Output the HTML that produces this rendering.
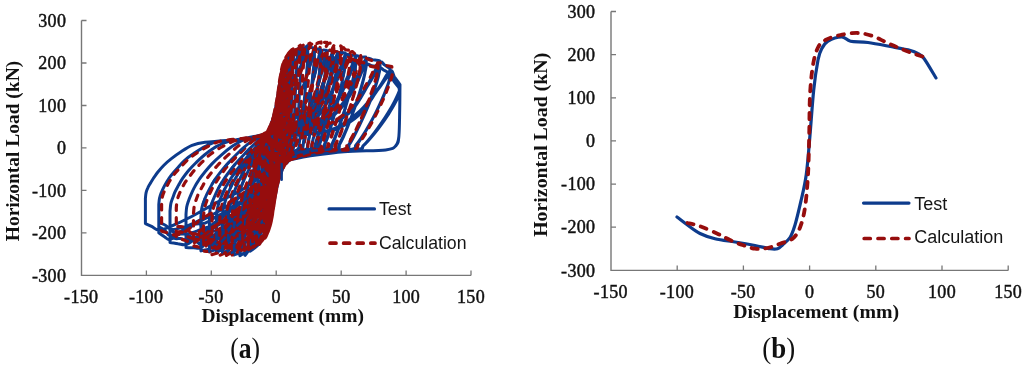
<!DOCTYPE html>
<html><head><meta charset="utf-8"><title>Hysteresis</title>
<style>
html,body{margin:0;padding:0;background:#fff;}
body{width:1024px;height:368px;overflow:hidden;position:relative;font-family:"Liberation Serif",serif;}
svg{position:absolute;left:0;top:0;display:block;filter:blur(0.35px);}
.tk{font-family:"Liberation Serif",serif;font-size:18px;fill:#111;stroke:#111;stroke-width:0.45px;letter-spacing:0.3px;}
.tt{font-family:"Liberation Serif",serif;font-size:19.2px;font-weight:bold;fill:#111;}
.lg{font-family:"Liberation Sans",sans-serif;font-size:17.4px;fill:#151515;}
.cp{font-family:"Liberation Serif",serif;font-size:30.5px;fill:#111;}
.b{fill:none;stroke:#0d3b8c;stroke-width:3;stroke-linejoin:round;stroke-linecap:round;}
.r{fill:none;stroke:#960d0d;stroke-width:3.2;stroke-linejoin:round;stroke-linecap:round;stroke-dasharray:5.6 7.4;}
</style></head>
<body>
<svg width="1024" height="368" viewBox="0 0 1024 368">
<rect width="1024" height="368" fill="#ffffff"/>
<!-- chart a -->
<path d="M81.5 20.5V275.4H471.0" fill="none" stroke="#777777" stroke-width="1.4"/><path d="M81.5 20.5h5M81.5 63.0h5M146.4 275.4v-5M81.5 105.5h5M211.3 275.4v-5M81.5 147.9h5M276.2 275.4v-5M81.5 190.4h5M341.2 275.4v-5M81.5 232.9h5M406.1 275.4v-5M471.0 275.4v-5" fill="none" stroke="#777777" stroke-width="1.3"/>
<text x="66.2" y="26.7" text-anchor="end" class="tk">300</text><text x="66.2" y="69.2" text-anchor="end" class="tk">200</text><text x="66.2" y="111.7" text-anchor="end" class="tk">100</text><text x="66.2" y="154.1" text-anchor="end" class="tk">0</text><text x="66.2" y="196.6" text-anchor="end" class="tk">-100</text><text x="66.2" y="239.1" text-anchor="end" class="tk">-200</text><text x="66.2" y="281.6" text-anchor="end" class="tk">-300</text><text x="81.2" y="302.8" text-anchor="middle" class="tk">-150</text><text x="146.1" y="302.8" text-anchor="middle" class="tk">-100</text><text x="211.0" y="302.8" text-anchor="middle" class="tk">-50</text><text x="276.2" y="302.8" text-anchor="middle" class="tk">0</text><text x="341.2" y="302.8" text-anchor="middle" class="tk">50</text><text x="406.1" y="302.8" text-anchor="middle" class="tk">100</text><text x="471.0" y="302.8" text-anchor="middle" class="tk">150</text>
<text class="tt" style="font-size:19.45px" x="282.7" y="322" text-anchor="middle">Displacement (mm)</text>
<text class="tt" style="font-size:19.45px" transform="translate(19,151) rotate(-90)" text-anchor="middle">Horizontal Load (kN)</text>
<path class="b" d="M276.2 136.0C281.6 135.6 298.2 134.9 308.1 133.7C317.9 132.4 326.6 132.5 335.3 128.7C344.0 124.9 353.1 117.5 360.3 110.9C367.5 104.2 373.6 95.5 378.5 88.8C383.4 82.2 387.1 72.6 389.9 70.8C392.6 68.9 393.2 75.5 394.9 77.8C396.6 80.1 399.1 83.5 400.0 84.7C399.9 88.9 399.9 101.4 399.7 110.0C399.5 118.5 399.5 130.2 398.9 136.1C398.3 142.0 398.3 143.1 396.1 145.4C393.9 147.7 394.4 148.8 385.7 149.9C377.0 150.9 356.9 150.7 344.1 151.8C331.3 152.8 318.2 154.8 309.1 156.1C300.0 157.5 294.9 158.9 289.4 159.8C283.9 160.8 280.8 159.5 276.2 162.1C271.7 164.6 268.0 170.4 262.2 175.1C256.3 179.8 248.4 186.0 241.0 190.5C233.6 195.0 225.7 197.7 217.5 202.1C209.3 206.4 199.5 212.4 191.7 216.5C183.8 220.6 176.0 224.2 170.5 226.5C165.0 228.8 161.8 230.2 158.8 230.3C155.7 230.3 154.3 227.8 152.1 226.7C149.8 225.6 146.5 224.1 145.4 223.6C145.4 219.4 145.4 202.5 145.4 198.3C145.5 197.3 145.7 194.4 146.1 192.7C146.5 190.9 147.0 189.4 147.8 187.8C148.5 186.2 149.5 184.7 150.5 183.1C151.4 181.4 152.5 179.7 153.7 177.8C155.0 176.0 156.2 174.1 157.9 172.0C159.6 169.9 161.7 167.4 163.9 165.2C166.1 163.0 168.3 161.1 171.1 158.9C173.8 156.8 176.8 154.5 180.3 152.3C183.8 150.0 187.8 147.1 192.0 145.4C196.1 143.8 198.2 143.2 205.1 142.3C212.0 141.4 224.7 140.6 233.6 140.0C242.5 139.3 252.3 138.8 258.5 138.4C264.6 137.9 267.6 137.6 270.6 137.2C273.5 136.8 275.3 136.2 276.2 136.0 M276.2 135.8C281.6 135.4 298.2 134.8 308.1 133.5C317.9 132.3 326.6 132.0 335.3 128.2C344.0 124.3 353.1 117.2 360.3 110.6C367.5 103.9 373.6 94.9 378.5 88.2C383.4 81.6 387.2 72.6 389.9 70.8C392.5 68.9 393.0 75.1 394.5 77.2C396.1 79.3 398.4 82.4 399.2 83.4C399.3 84.5 400.3 87.0 399.6 89.9C398.8 92.8 396.6 97.3 394.7 101.1C392.8 104.9 390.5 108.9 388.2 112.6C386.0 116.3 383.6 119.9 381.3 123.2C379.0 126.6 376.7 129.8 374.4 132.7C372.2 135.6 369.8 138.5 367.9 140.7C366.1 142.9 364.6 144.5 363.1 145.9C361.6 147.3 364.9 148.3 359.0 149.2C353.1 150.1 337.2 150.2 327.6 151.2C317.9 152.3 308.0 154.2 301.1 155.6C294.2 156.9 290.3 158.3 286.2 159.3C282.0 160.4 277.9 161.6 276.2 162.1 M276.2 132.9C281.1 132.5 296.2 131.4 305.2 130.1C314.1 128.8 322.0 128.9 329.9 125.1C337.8 121.3 346.1 114.7 352.6 107.5C359.2 100.3 364.7 89.3 369.1 81.9C373.6 74.5 376.9 65.7 379.5 62.9C382.1 60.1 382.9 64.1 384.7 65.0C386.4 66.0 389.0 68.2 389.9 68.8C389.9 70.1 390.9 73.1 390.2 76.7C389.6 80.3 387.5 85.8 385.7 90.4C384.0 95.0 381.8 99.9 379.7 104.4C377.7 108.9 375.5 113.3 373.4 117.4C371.2 121.5 369.1 125.5 367.0 129.1C364.9 132.6 362.8 136.1 361.0 138.8C359.3 141.5 357.9 143.4 356.5 145.1C355.1 146.9 358.2 148.2 352.8 149.2C347.3 150.3 332.6 150.2 323.7 151.4C314.8 152.6 305.6 155.1 299.2 156.7C292.8 158.3 289.3 159.7 285.4 160.9C281.6 162.2 279.9 161.1 276.2 164.0C272.6 166.9 268.8 173.2 263.5 178.1C258.2 183.1 251.1 188.6 244.4 193.8C237.7 198.9 230.6 204.2 223.1 208.8C215.7 213.4 206.9 217.4 199.8 221.4C192.7 225.4 185.6 229.9 180.7 232.9C175.7 235.9 172.8 239.0 170.0 239.6C167.3 240.3 166.3 237.8 164.4 236.7C162.5 235.5 159.7 233.5 158.8 232.8C158.8 228.1 158.8 209.2 158.8 204.4C158.9 203.4 159.1 200.2 159.5 198.3C159.9 196.4 160.4 194.9 161.1 193.0C161.9 191.2 162.8 189.2 163.8 187.2C164.8 185.2 165.9 183.2 167.1 181.2C168.4 179.2 169.6 177.4 171.3 175.2C173.0 173.1 175.1 170.7 177.3 168.3C179.5 165.8 181.7 162.9 184.4 160.5C187.2 158.0 190.2 155.9 193.7 153.6C197.2 151.2 201.2 148.3 205.3 146.3C209.5 144.2 212.4 142.4 218.5 141.3C224.5 140.2 234.4 140.4 241.6 139.5C248.8 138.5 256.8 136.6 261.8 135.8C266.8 134.9 269.2 134.9 271.6 134.5C274.0 134.0 275.5 133.2 276.2 132.9 M276.2 131.2C280.4 130.7 293.6 129.7 301.3 128.2C309.1 126.7 316.0 126.3 322.8 122.3C329.7 118.2 336.9 111.2 342.5 103.7C348.2 96.2 353.0 84.4 356.9 77.0C360.8 69.6 363.2 62.1 365.8 59.3C368.5 56.4 370.4 59.4 372.7 59.7C374.9 59.9 378.3 60.6 379.5 60.8C379.5 62.2 380.5 65.5 379.9 69.5C379.2 73.4 377.4 79.5 375.8 84.5C374.2 89.6 372.2 95.0 370.3 99.9C368.4 104.9 366.5 109.7 364.5 114.3C362.6 118.8 360.6 123.1 358.7 127.0C356.9 131.0 354.9 134.8 353.3 137.7C351.7 140.7 350.5 142.8 349.2 144.7C348.0 146.6 350.8 148.0 345.8 149.2C340.8 150.5 327.5 150.7 319.4 152.1C311.3 153.5 302.9 155.7 297.1 157.4C291.3 159.1 288.1 160.8 284.6 162.2C281.1 163.7 279.4 162.9 276.2 166.0C273.1 169.1 269.9 175.6 265.4 180.7C260.9 185.9 254.9 192.0 249.2 196.9C243.5 201.9 237.4 205.8 231.1 210.5C224.8 215.2 217.3 220.5 211.3 225.2C205.3 229.8 199.3 235.3 195.0 238.5C190.8 241.8 188.9 243.8 186.0 244.6C183.2 245.5 180.7 244.1 178.0 243.8C175.4 243.4 171.4 242.7 170.0 242.5C170.0 237.2 170.0 216.1 170.0 210.9C170.2 209.7 170.4 205.8 170.8 203.8C171.2 201.7 171.7 200.7 172.4 198.7C173.2 196.7 174.1 193.9 175.1 191.7C176.1 189.5 177.2 187.6 178.4 185.4C179.7 183.2 180.9 180.9 182.6 178.4C184.3 176.0 186.4 173.1 188.6 170.5C190.8 168.0 193.0 165.6 195.7 163.0C198.5 160.3 201.5 157.3 205.0 154.5C208.5 151.8 212.5 148.6 216.6 146.4C220.8 144.2 224.5 142.5 229.8 141.1C235.1 139.6 242.6 138.9 248.4 137.8C254.2 136.7 260.6 135.5 264.6 134.6C268.7 133.8 270.6 133.3 272.5 132.7C274.5 132.2 275.6 131.5 276.2 131.2 M276.2 130.3C279.9 129.9 291.6 129.5 298.4 128.0C305.3 126.4 311.4 125.3 317.4 121.2C323.5 117.1 329.8 110.9 334.9 103.5C339.9 96.1 344.1 84.6 347.5 76.9C351.0 69.2 353.3 60.6 355.4 57.3C357.6 54.0 358.9 57.4 360.6 57.3C362.4 57.3 365.0 57.0 365.8 57.0C365.9 58.5 366.8 61.9 366.2 66.1C365.7 70.2 364.1 76.5 362.7 81.8C361.3 87.1 359.6 92.7 357.9 97.9C356.3 103.0 354.6 108.1 352.9 112.8C351.2 117.5 349.5 122.0 347.9 126.1C346.3 130.2 344.5 134.2 343.2 137.3C341.8 140.3 340.7 142.6 339.6 144.5C338.5 146.5 341.0 147.9 336.7 149.2C332.3 150.5 320.8 150.8 313.7 152.2C306.7 153.7 299.4 155.9 294.4 157.9C289.3 159.8 286.5 162.2 283.5 163.7C280.5 165.3 279.0 164.1 276.2 167.3C273.5 170.4 271.0 177.6 267.2 182.9C263.4 188.1 258.4 193.6 253.7 198.5C248.9 203.5 243.9 207.7 238.6 212.7C233.3 217.6 227.1 223.8 222.0 228.4C217.0 232.9 212.0 236.8 208.5 240.0C205.0 243.3 203.4 246.5 200.9 247.8C198.4 249.1 196.0 247.7 193.5 247.7C191.0 247.7 187.3 247.6 186.0 247.6C186.0 242.1 186.0 219.8 186.0 214.3C186.1 213.1 186.3 209.3 186.7 207.1C187.1 204.9 187.7 203.3 188.4 201.2C189.1 199.1 190.1 196.7 191.1 194.4C192.1 192.1 193.1 189.8 194.4 187.4C195.6 185.0 196.9 182.8 198.6 180.3C200.2 177.8 202.3 175.2 204.5 172.5C206.7 169.8 209.0 166.9 211.7 164.1C214.4 161.2 217.5 158.3 221.0 155.3C224.4 152.3 228.5 148.9 232.6 146.1C236.7 143.4 241.5 140.5 245.7 138.8C250.0 137.0 254.1 136.7 257.9 135.7C261.8 134.8 266.0 133.7 268.6 133.1C271.3 132.4 272.5 132.2 273.8 131.8C275.1 131.3 275.8 130.6 276.2 130.3 M276.2 129.8C279.5 129.3 289.6 128.4 295.5 126.9C301.5 125.4 306.8 125.3 312.0 121.0C317.3 116.8 322.8 109.3 327.2 101.4C331.5 93.5 335.2 81.3 338.2 73.7C341.2 66.0 343.0 58.5 345.1 55.5C347.1 52.5 348.5 55.5 350.3 55.5C352.0 55.4 354.6 55.0 355.4 55.0C355.5 56.5 356.3 60.0 355.8 64.3C355.4 68.5 353.9 74.9 352.7 80.3C351.5 85.7 350.0 91.5 348.5 96.7C347.1 102.0 345.6 107.2 344.1 112.0C342.6 116.8 341.1 121.4 339.6 125.6C338.2 129.8 336.7 133.9 335.5 137.0C334.2 140.1 333.3 142.4 332.3 144.4C331.4 146.5 333.5 148.0 329.7 149.2C325.9 150.5 315.6 150.5 309.4 152.1C303.2 153.6 296.7 156.7 292.3 158.7C287.8 160.6 285.3 162.3 282.7 163.9C280.0 165.4 278.7 165.0 276.2 168.1C273.8 171.3 271.6 177.3 268.2 182.8C264.9 188.4 260.4 196.2 256.2 201.3C252.0 206.4 247.5 208.8 242.8 213.4C238.1 218.1 232.6 224.7 228.1 229.3C223.7 233.8 219.2 237.6 216.1 240.8C213.0 244.0 211.2 247.0 209.4 248.5C207.6 250.1 206.6 249.5 205.2 249.9C203.8 250.3 201.6 250.7 200.9 250.9C200.9 245.1 200.9 222.2 200.9 216.4C201.1 215.1 201.3 210.9 201.7 208.7C202.1 206.4 202.6 205.1 203.3 203.0C204.1 200.8 205.0 198.2 206.0 196.0C207.0 193.7 208.1 191.7 209.3 189.4C210.6 187.0 211.8 184.3 213.5 181.7C215.2 179.0 217.3 176.3 219.5 173.4C221.7 170.6 223.9 167.9 226.6 164.8C229.4 161.7 232.4 158.4 235.9 155.0C239.4 151.6 243.4 147.7 247.5 144.4C251.7 141.2 257.4 137.3 260.7 135.6C263.9 133.8 265.0 134.5 266.9 133.9C268.8 133.3 271.0 132.5 272.4 132.0C273.7 131.4 274.4 131.1 275.0 130.7C275.7 130.4 276.0 129.9 276.2 129.8 M276.2 129.2C279.1 128.8 288.0 128.2 293.3 126.8C298.6 125.3 303.3 124.6 308.0 120.4C312.7 116.3 317.5 109.9 321.4 101.9C325.3 94.0 328.5 80.7 331.2 72.7C333.8 64.8 335.0 57.4 337.3 54.2C339.6 50.9 343.8 53.3 345.1 53.1C345.1 54.7 345.8 58.3 345.5 62.6C345.1 66.9 343.8 73.5 342.7 79.0C341.7 84.5 340.3 90.3 339.1 95.7C337.8 101.1 336.5 106.3 335.2 111.2C333.9 116.2 332.6 120.9 331.4 125.1C330.1 129.4 328.8 133.6 327.7 136.8C326.7 140.0 325.8 142.3 325.0 144.3C324.2 146.4 326.1 147.9 322.7 149.2C319.4 150.5 310.5 150.5 305.1 152.2C299.7 153.8 294.1 157.1 290.2 159.2C286.3 161.2 284.2 162.9 281.8 164.5C279.5 166.0 278.4 165.1 276.2 168.4C274.1 171.8 272.1 179.1 269.1 184.4C266.1 189.7 262.1 195.0 258.3 200.4C254.6 205.8 250.6 211.9 246.4 216.7C242.2 221.5 237.2 225.4 233.2 229.4C229.3 233.3 225.3 237.4 222.5 240.6C219.7 243.9 218.7 247.0 216.5 248.9C214.3 250.7 210.6 251.2 209.4 251.6C209.4 245.9 209.4 222.7 209.4 217.0C209.5 215.7 209.7 211.7 210.1 209.4C210.5 207.1 211.0 205.5 211.8 203.3C212.5 201.2 213.5 198.8 214.5 196.6C215.5 194.3 216.5 192.1 217.7 189.7C219.0 187.3 220.2 184.9 221.9 182.2C223.6 179.5 225.7 176.5 227.9 173.5C230.1 170.5 232.3 167.4 235.1 164.2C237.8 161.0 240.8 157.8 244.3 154.2C247.8 150.6 251.8 146.4 256.0 142.7C260.1 139.0 266.4 134.0 269.1 132.1C271.8 130.1 271.1 131.4 272.0 131.1C272.9 130.9 273.8 130.8 274.5 130.5C275.1 130.2 275.4 129.7 275.7 129.5C276.0 129.2 276.2 129.3 276.2 129.2 M276.2 128.9C278.9 128.5 287.0 128.0 291.9 126.4C296.7 124.9 301.0 124.3 305.3 119.8C309.6 115.2 314.0 106.9 317.6 98.9C321.1 91.0 324.1 79.6 326.5 72.0C328.9 64.4 330.3 56.7 332.1 53.3C333.9 50.0 336.4 52.0 337.3 51.8C337.3 53.4 338.0 57.0 337.7 61.4C337.3 65.7 336.2 72.4 335.2 78.0C334.3 83.6 333.1 89.5 332.0 94.9C330.9 100.4 329.7 105.7 328.6 110.7C327.5 115.7 326.3 120.5 325.2 124.8C324.1 129.1 322.9 133.3 322.0 136.6C321.0 139.8 320.3 142.2 319.5 144.3C318.8 146.4 320.5 147.9 317.5 149.2C314.6 150.5 306.7 150.5 301.8 152.1C297.0 153.8 292.1 157.1 288.6 159.2C285.2 161.2 283.3 162.9 281.2 164.5C279.1 166.1 278.2 165.2 276.2 168.6C274.3 172.1 272.5 180.2 269.8 185.3C267.1 190.4 263.5 194.1 260.1 199.1C256.7 204.1 253.1 210.3 249.3 215.4C245.5 220.5 241.0 225.2 237.5 229.9C233.9 234.6 230.3 240.2 227.8 243.5C225.2 246.7 224.2 247.7 222.4 249.2C220.5 250.6 217.5 251.5 216.5 252.0C216.5 246.2 216.5 223.0 216.5 217.2C216.6 216.0 216.8 212.1 217.2 209.8C217.6 207.5 218.1 205.5 218.8 203.3C219.5 201.0 220.5 198.4 221.5 196.1C222.4 193.7 223.4 191.6 224.6 189.3C225.8 186.9 227.1 184.6 228.7 182.0C230.3 179.3 232.4 176.2 234.5 173.2C236.6 170.2 238.8 167.3 241.4 164.0C244.1 160.7 247.0 157.1 250.4 153.3C253.8 149.4 257.7 144.5 261.7 140.7C265.7 136.8 272.0 131.9 274.5 129.9C276.9 127.9 276.0 129.0 276.2 128.9 M276.2 128.6C278.6 128.2 285.9 127.6 290.2 126.2C294.6 124.7 298.4 124.4 302.2 120.1C306.1 115.8 310.1 108.1 313.2 100.3C316.4 92.4 319.1 80.9 321.2 73.0C323.4 65.1 324.4 56.3 326.2 52.6C328.0 48.9 331.1 51.2 332.1 50.9C332.1 52.5 332.8 56.2 332.5 60.6C332.2 65.0 331.1 71.7 330.3 77.4C329.4 83.0 328.3 89.0 327.3 94.5C326.3 100.0 325.2 105.4 324.2 110.4C323.1 115.4 322.1 120.2 321.0 124.6C320.0 128.9 319.0 133.2 318.1 136.5C317.2 139.7 316.6 142.1 315.9 144.2C315.2 146.4 316.7 147.9 314.0 149.2C311.3 150.5 304.1 150.6 299.7 152.2C295.3 153.7 290.7 156.5 287.6 158.5C284.4 160.6 282.7 162.8 280.8 164.5C278.9 166.2 278.0 165.8 276.2 168.8C274.5 171.8 272.9 177.7 270.5 182.7C268.1 187.7 264.9 193.5 261.8 198.8C258.8 204.1 255.6 209.0 252.2 214.6C248.9 220.2 244.9 227.4 241.7 232.4C238.5 237.5 235.3 242.0 233.0 245.0C230.8 248.0 230.0 249.2 228.2 250.4C226.4 251.6 223.3 252.0 222.4 252.3C222.4 246.5 222.4 223.2 222.4 217.4C222.5 216.2 222.6 212.2 223.0 209.9C223.3 207.7 223.8 206.1 224.5 203.9C225.1 201.7 225.9 199.2 226.8 196.8C227.7 194.4 228.6 192.0 229.7 189.6C230.8 187.1 231.9 184.7 233.3 182.0C234.8 179.3 236.7 176.2 238.6 173.2C240.5 170.2 242.4 167.5 244.8 164.1C247.2 160.6 249.9 156.7 252.9 152.7C256.0 148.7 259.5 144.0 263.1 140.2C266.8 136.4 272.4 131.8 274.6 129.8C276.8 127.9 276.0 128.8 276.2 128.6 M276.2 127.4C278.3 126.4 284.8 124.0 288.6 121.8C292.4 119.6 295.8 118.6 299.2 114.1C302.6 109.7 306.1 102.3 308.9 94.8C311.7 87.4 314.1 76.7 316.0 69.5C317.9 62.4 318.7 55.1 320.4 51.9C322.1 48.7 325.3 50.5 326.2 50.2C326.3 51.8 326.9 55.5 326.6 60.0C326.4 64.4 325.4 71.1 324.6 76.8C323.9 82.5 322.9 88.5 322.0 94.1C321.1 99.6 320.1 105.0 319.2 110.1C318.3 115.1 317.3 120.0 316.4 124.4C315.5 128.8 314.5 133.1 313.8 136.4C313.0 139.7 312.4 142.1 311.8 144.2C311.2 146.3 312.6 147.8 310.1 149.2C307.7 150.7 301.2 150.9 297.3 152.8C293.3 154.7 289.2 158.4 286.4 160.6C283.6 162.8 282.0 164.4 280.3 166.1C278.6 167.9 277.8 167.6 276.2 171.3C274.7 175.0 273.3 182.9 271.2 188.1C269.1 193.3 266.3 197.7 263.6 202.5C260.9 207.3 258.1 211.8 255.2 217.1C252.2 222.4 248.7 229.6 245.9 234.4C243.1 239.2 240.2 243.0 238.3 245.9C236.3 248.8 235.7 250.4 234.1 251.7C232.4 252.9 229.2 253.2 228.2 253.5C228.2 247.7 228.2 224.1 228.2 218.2C228.3 216.9 228.5 212.5 228.8 210.1C229.1 207.8 229.5 206.3 230.1 204.2C230.6 202.0 231.4 199.7 232.2 197.4C232.9 195.1 233.8 192.9 234.7 190.5C235.7 188.1 236.7 185.8 238.0 183.0C239.3 180.2 240.9 176.7 242.7 173.5C244.4 170.3 246.1 167.2 248.2 163.8C250.4 160.3 252.8 156.8 255.5 152.7C258.2 148.7 261.3 143.5 264.6 139.4C267.8 135.2 272.9 130.0 274.8 128.0C276.8 126.0 276.0 127.5 276.2 127.4 M276.2 124.1C278.0 122.0 283.5 115.5 286.8 111.6C290.1 107.8 292.9 105.9 295.8 101.2C298.7 96.6 301.7 89.8 304.1 83.7C306.5 77.7 308.5 70.7 310.1 65.2C311.8 59.6 312.2 53.1 313.9 50.5C315.6 47.9 319.3 49.6 320.4 49.5C320.5 51.1 321.0 54.8 320.8 59.3C320.6 63.8 319.7 70.6 319.0 76.3C318.4 82.0 317.5 88.1 316.7 93.7C315.9 99.2 315.1 104.7 314.2 109.8C313.4 114.9 312.6 119.8 311.8 124.2C310.9 128.6 310.1 133.0 309.4 136.3C308.7 139.6 308.2 142.0 307.7 144.2C307.1 146.3 308.4 147.6 306.2 149.2C304.1 150.8 298.3 151.8 294.8 153.8C291.3 155.9 287.7 159.1 285.2 161.6C282.7 164.2 281.3 166.9 279.8 169.1C278.3 171.4 277.6 170.9 276.2 174.9C274.9 178.9 273.7 187.7 271.9 193.2C270.1 198.6 267.6 202.4 265.3 207.4C263.0 212.5 260.6 218.9 258.1 223.5C255.5 228.2 252.5 231.8 250.1 235.5C247.7 239.2 245.2 243.0 243.5 245.8C241.8 248.6 241.5 250.9 239.9 252.4C238.3 253.9 235.0 254.4 234.1 254.9C234.1 248.9 234.1 225.1 234.1 219.1C234.1 217.8 234.3 213.8 234.5 211.5C234.8 209.2 235.2 207.5 235.7 205.2C236.2 203.0 236.9 200.3 237.5 198.0C238.2 195.6 238.9 193.4 239.8 190.9C240.6 188.5 241.5 185.9 242.6 183.1C243.8 180.3 245.2 177.4 246.7 174.2C248.2 171.0 249.8 167.5 251.7 163.8C253.5 160.0 255.6 156.1 258.0 151.7C260.4 147.3 263.1 141.8 266.0 137.4C268.8 133.0 273.3 127.6 275.0 125.4C276.7 123.2 276.0 124.3 276.2 124.1 M276.2 119.6C277.7 116.4 282.3 105.9 285.0 100.2C287.7 94.6 290.1 90.7 292.5 85.6C294.8 80.5 297.3 74.4 299.3 69.6C301.3 64.9 302.9 61.0 304.3 57.4C305.6 53.8 305.8 49.8 307.4 48.2C309.0 46.7 312.8 48.0 313.9 48.0C314.0 49.7 314.5 53.4 314.3 58.0C314.1 62.5 313.4 69.4 312.8 75.2C312.2 81.0 311.5 87.1 310.9 92.8C310.2 98.5 309.5 104.0 308.8 109.2C308.1 114.3 307.3 119.3 306.7 123.8C306.0 128.3 305.3 132.6 304.7 136.0C304.1 139.4 303.7 141.8 303.2 144.0C302.8 146.2 303.8 147.5 302.0 149.1C300.2 150.7 295.2 151.1 292.2 153.6C289.2 156.2 286.1 161.3 284.0 164.6C281.8 167.8 280.6 170.6 279.3 173.2C278.1 175.7 277.4 175.5 276.2 180.0C275.1 184.5 274.1 194.1 272.5 200.3C271.0 206.4 268.9 212.4 266.9 217.0C264.9 221.6 262.9 224.0 260.7 228.0C258.5 231.9 255.9 236.9 253.8 240.6C251.7 244.2 249.7 247.8 248.2 249.7C246.8 251.6 246.5 251.2 245.1 252.2C243.7 253.2 240.8 255.1 239.9 255.6C239.9 251.1 239.9 233.1 239.9 228.6C240.0 227.1 240.1 222.1 240.3 219.6C240.6 217.0 240.9 215.6 241.3 213.1C241.7 210.6 242.3 207.5 242.9 204.8C243.5 202.0 244.1 199.4 244.8 196.7C245.6 193.9 246.3 191.5 247.3 188.4C248.3 185.3 249.5 181.6 250.8 177.9C252.1 174.1 253.4 170.2 255.1 165.8C256.7 161.4 258.5 156.7 260.5 151.6C262.6 146.5 265.0 140.5 267.4 135.4C269.8 130.4 273.7 123.9 275.2 121.3C276.6 118.6 276.1 119.9 276.2 119.6 M276.2 111.9C277.5 108.0 281.3 94.9 283.5 88.4C285.8 81.9 287.8 77.3 289.8 72.8C291.7 68.3 293.8 64.6 295.5 61.3C297.1 58.0 298.5 55.1 299.6 53.1C300.7 51.2 300.9 51.1 302.2 49.8C303.5 48.6 306.5 46.4 307.4 45.7C307.5 47.4 307.9 51.3 307.8 55.9C307.7 60.5 307.1 67.6 306.6 73.5C306.2 79.4 305.6 85.7 305.1 91.5C304.6 97.2 304.0 102.9 303.5 108.2C302.9 113.4 302.4 118.5 301.8 123.1C301.3 127.7 300.8 132.1 300.3 135.6C299.9 139.0 299.5 141.5 299.2 143.7C298.8 146.0 299.8 147.1 298.2 149.0C296.7 150.8 292.4 151.8 289.9 154.9C287.3 157.9 284.7 163.6 282.8 167.3C281.0 171.1 280.0 174.4 278.9 177.5C277.8 180.5 277.2 181.2 276.2 185.8C275.3 190.5 274.4 199.6 273.1 205.2C271.8 210.9 270.1 215.7 268.5 219.6C266.8 223.6 265.1 225.9 263.3 229.0C261.4 232.2 259.3 235.8 257.6 238.4C255.8 241.1 254.1 243.2 252.9 244.8C251.7 246.4 251.6 246.3 250.3 248.1C249.0 249.9 246.0 254.2 245.1 255.4C245.1 250.9 245.1 232.9 245.1 228.4C245.2 226.9 245.3 222.1 245.5 219.6C245.7 217.0 245.9 215.3 246.3 212.9C246.7 210.4 247.2 207.4 247.7 204.8C248.2 202.2 248.7 199.8 249.3 197.0C250.0 194.3 250.6 191.5 251.4 188.2C252.3 184.8 253.4 181.0 254.5 176.9C255.6 172.9 256.7 168.8 258.1 164.0C259.5 159.3 261.0 154.0 262.8 148.6C264.5 143.1 266.6 137.0 268.7 131.1C270.8 125.3 274.1 116.8 275.3 113.6C276.6 110.4 276.1 112.2 276.2 111.9 M276.2 107.7C277.5 102.2 281.4 83.0 284.0 74.5C286.6 65.9 288.8 60.9 291.8 56.4C294.9 51.8 300.5 48.8 302.2 47.3C301.8 54.4 300.5 75.2 299.6 89.6C298.7 104.0 298.6 122.2 296.9 133.9C295.2 145.5 291.4 154.2 289.2 159.5C287.1 164.8 285.7 162.4 284.0 165.7C282.4 169.0 280.4 175.4 279.1 179.3C277.8 183.3 278.0 181.9 276.2 189.3C274.5 196.6 271.1 214.6 268.5 223.3C265.9 232.1 263.7 237.3 260.7 241.9C257.6 246.6 252.0 249.7 250.3 251.2C250.7 244.0 252.0 222.6 252.9 207.8C253.8 193.0 253.9 174.3 255.6 162.4C257.3 150.5 261.1 142.0 263.3 136.7C265.4 131.4 266.8 133.9 268.5 130.6C270.1 127.4 272.1 121.2 273.4 117.4C274.7 113.5 275.8 109.3 276.2 107.7 M276.2 104.8C277.3 99.7 280.5 81.9 282.7 74.0C284.8 66.0 286.6 61.4 289.1 57.2C291.6 53.0 296.2 50.2 297.7 48.8C297.3 55.7 296.3 76.2 295.5 90.4C294.8 104.6 294.7 122.5 293.3 134.1C291.9 145.7 288.7 154.6 287.0 160.0C285.2 165.4 284.1 163.0 282.7 166.4C281.3 169.8 279.7 176.5 278.6 180.6C277.5 184.6 277.7 184.0 276.2 190.9C274.8 197.7 272.0 213.6 269.8 221.5C267.7 229.4 265.9 234.1 263.4 238.2C260.9 242.4 256.3 245.2 254.8 246.6C255.2 239.7 256.2 219.3 257.0 205.2C257.7 191.0 257.8 173.3 259.2 161.8C260.6 150.2 263.8 141.3 265.5 135.9C267.3 130.5 268.4 132.8 269.8 129.4C271.2 125.9 272.8 119.3 273.9 115.2C275.0 111.1 275.9 106.5 276.2 104.8 M276.2 105.0C277.1 100.0 279.8 82.7 281.5 75.0C283.3 67.3 284.7 62.7 286.8 58.6C288.8 54.5 292.6 51.8 293.8 50.4C293.5 57.3 292.6 77.4 292.0 91.4C291.4 105.4 291.4 123.0 290.2 134.3C289.0 145.6 286.5 154.1 285.0 159.3C283.6 164.4 282.6 162.1 281.5 165.3C280.4 168.5 279.1 174.8 278.2 178.6C277.3 182.5 277.4 182.0 276.2 188.3C275.1 194.6 272.7 209.3 271.0 216.6C269.2 223.8 267.8 228.1 265.7 232.0C263.7 235.8 259.9 238.4 258.7 239.7C259.0 233.3 259.9 214.3 260.5 201.2C261.1 188.0 261.1 171.7 262.3 160.8C263.5 149.9 266.0 141.2 267.5 135.9C268.9 130.7 269.9 132.9 271.0 129.5C272.1 126.1 273.4 119.4 274.3 115.3C275.2 111.3 275.9 106.8 276.2 105.0 M276.2 106.8C277.0 101.9 279.1 85.3 280.5 77.9C282.0 70.5 283.2 66.1 284.8 62.2C286.5 58.3 289.6 55.6 290.5 54.3C290.3 60.9 289.6 80.2 289.1 93.6C288.6 107.1 288.6 124.1 287.6 134.8C286.7 145.6 284.6 153.3 283.4 158.1C282.2 162.9 281.5 160.7 280.5 163.6C279.6 166.5 278.5 172.2 277.8 175.6C277.1 179.1 277.2 178.6 276.2 184.3C275.3 190.0 273.4 203.3 272.0 209.8C270.5 216.4 269.3 220.2 267.7 223.7C266.0 227.2 262.9 229.5 262.0 230.7C262.2 224.9 262.9 207.8 263.4 195.9C263.9 184.1 263.9 169.4 264.9 159.5C265.8 149.6 267.9 141.3 269.1 136.4C270.3 131.5 271.0 133.5 272.0 130.2C272.9 126.9 274.0 120.6 274.7 116.6C275.4 112.7 276.0 108.4 276.2 106.8 M276.2 111.9C276.8 107.0 278.6 89.9 279.8 82.2C280.9 74.5 281.9 70.0 283.3 66.0C284.6 61.9 287.2 59.2 287.9 57.9C287.7 64.2 287.2 82.8 286.8 95.7C286.4 108.6 286.3 125.3 285.5 135.3C284.8 145.4 283.1 151.9 282.1 156.0C281.1 160.2 280.5 158.1 279.8 160.4C279.0 162.7 278.1 167.2 277.5 169.9C277.0 172.7 277.0 171.7 276.2 176.8C275.5 182.0 273.9 194.5 272.7 200.7C271.6 206.8 270.6 210.4 269.2 213.7C267.9 216.9 265.3 219.1 264.6 220.2C264.8 215.1 265.3 200.2 265.7 189.8C266.1 179.5 266.2 166.7 267.0 158.1C267.7 149.4 269.4 142.1 270.4 137.9C271.4 133.6 272.0 135.3 272.7 132.5C273.5 129.6 274.4 124.0 275.0 120.6C275.5 117.1 276.0 113.4 276.2 111.9 M276.2 119.3C276.7 114.2 278.2 96.6 279.2 88.7C280.1 80.8 281.0 76.1 282.1 72.0C283.2 67.8 285.3 65.0 286.0 63.6C285.8 69.5 285.3 87.0 285.0 99.0C284.7 111.1 284.6 127.0 284.0 136.1C283.3 145.3 281.9 150.5 281.1 154.1C280.3 157.6 279.8 155.6 279.2 157.4C278.5 159.1 277.8 162.5 277.3 164.6C276.8 166.7 276.9 165.1 276.2 169.8C275.6 174.6 274.3 187.2 273.3 193.2C272.4 199.2 271.5 202.8 270.4 205.9C269.3 209.1 267.2 211.3 266.5 212.3C266.7 207.8 267.2 194.5 267.5 185.3C267.8 176.1 267.9 164.5 268.5 157.0C269.2 149.4 270.6 143.5 271.4 139.9C272.2 136.4 272.7 137.9 273.3 135.6C274.0 133.3 274.7 128.9 275.2 126.2C275.7 123.4 276.1 120.4 276.2 119.3 M276.2 126.4C276.6 121.3 277.8 103.8 278.6 95.9C279.4 88.1 280.0 83.5 280.9 79.3C281.8 75.1 283.5 72.4 284.0 71.0C283.9 76.4 283.5 92.3 283.3 103.3C283.0 114.3 283.0 129.0 282.4 137.2C281.9 145.3 280.8 149.4 280.1 152.4C279.5 155.3 279.1 153.5 278.6 154.7C278.1 156.0 277.5 158.4 277.1 159.9C276.7 161.4 276.8 159.3 276.2 163.7C275.7 168.0 274.7 180.2 273.9 185.9C273.1 191.6 272.5 195.0 271.6 198.0C270.7 201.1 269.0 203.1 268.5 204.1C268.6 200.2 269.0 188.6 269.2 180.5C269.5 172.5 269.5 162.2 270.1 155.8C270.6 149.4 271.7 144.8 272.4 141.9C273.0 139.1 273.4 140.4 273.9 138.7C274.4 137.0 275.0 133.6 275.4 131.6C275.8 129.5 276.1 127.3 276.2 126.4 M276.2 133.1C276.6 128.2 277.5 111.5 278.2 104.0C278.8 96.5 279.4 92.1 280.1 88.2C280.9 84.2 282.3 81.6 282.7 80.2C282.6 85.0 282.3 99.0 282.1 108.7C281.9 118.4 281.8 131.4 281.4 138.5C281.0 145.5 280.0 148.6 279.5 151.0C279.0 153.4 278.6 151.8 278.2 152.6C277.8 153.5 277.3 155.2 277.0 156.3C276.6 157.3 276.7 154.9 276.2 158.9C275.8 162.9 275.0 174.7 274.3 180.2C273.7 185.7 273.1 188.9 272.4 191.8C271.6 194.7 270.2 196.6 269.8 197.6C269.9 194.1 270.2 183.9 270.4 176.8C270.6 169.6 270.7 160.4 271.1 154.9C271.5 149.4 272.5 146.0 273.0 143.8C273.5 141.6 273.9 142.7 274.3 141.5C274.7 140.4 275.2 138.0 275.5 136.6C275.9 135.2 276.1 133.6 276.2 133.1 M276.2 138.6C276.5 134.1 277.3 118.5 277.8 111.6C278.3 104.6 278.8 100.5 279.4 96.9C280.0 93.2 281.1 90.7 281.4 89.5C281.4 93.6 281.1 105.7 280.9 114.0C280.7 122.4 280.7 133.8 280.4 139.8C280.0 145.7 279.3 148.0 278.8 149.9C278.4 151.7 278.1 150.4 277.8 150.9C277.5 151.5 277.1 152.5 276.8 153.2C276.6 153.9 276.6 151.3 276.2 154.9C275.9 158.5 275.2 169.7 274.7 174.8C274.2 180.0 273.7 183.0 273.1 185.7C272.5 188.4 271.4 190.2 271.1 191.1C271.1 188.1 271.4 179.2 271.6 173.0C271.8 166.8 271.8 158.6 272.1 154.0C272.5 149.4 273.2 147.0 273.7 145.3C274.1 143.7 274.4 144.7 274.7 143.9C275.0 143.2 275.4 141.7 275.7 140.8C275.9 140.0 276.2 139.0 276.2 138.6 M276.2 143.1C276.4 139.1 277.0 125.3 277.4 119.1C277.8 112.9 278.1 109.3 278.6 106.0C279.0 102.7 279.9 100.5 280.1 99.4C280.1 102.8 279.9 112.9 279.8 119.8C279.6 126.8 279.6 136.3 279.3 141.2C279.1 146.0 278.5 147.6 278.2 149.0C277.9 150.4 277.7 149.2 277.4 149.5C277.2 149.8 276.9 150.4 276.7 150.7C276.5 151.1 276.5 148.4 276.2 151.6C276.0 154.8 275.5 165.1 275.1 169.8C274.7 174.5 274.4 177.2 273.9 179.7C273.5 182.2 272.6 183.8 272.4 184.7C272.4 182.1 272.6 174.5 272.7 169.2C272.9 164.0 272.9 156.9 273.2 153.1C273.4 149.3 274.0 147.8 274.3 146.6C274.6 145.4 274.8 146.3 275.1 145.9C275.3 145.5 275.6 144.7 275.8 144.3C276.0 143.8 276.2 143.3 276.2 143.1 M276.2 145.8C276.4 143.0 276.8 133.5 277.0 129.2C277.3 124.9 277.5 122.4 277.8 120.1C278.1 117.9 278.7 116.4 278.8 115.6C278.8 117.9 278.7 124.6 278.6 129.2C278.5 133.8 278.5 140.2 278.3 143.4C278.1 146.6 277.8 147.6 277.5 148.4C277.3 149.3 277.2 148.6 277.0 148.7C276.9 148.9 276.7 149.1 276.5 149.3C276.4 149.5 276.4 147.4 276.2 149.7C276.1 152.1 275.7 159.9 275.5 163.5C275.2 167.0 275.0 169.1 274.7 171.0C274.4 172.9 273.8 174.1 273.7 174.7C273.7 172.9 273.8 167.3 273.9 163.5C274.0 159.6 274.0 154.4 274.2 151.7C274.4 149.0 274.7 148.1 275.0 147.3C275.2 146.6 275.3 147.2 275.5 147.0C275.6 146.9 275.8 146.5 276.0 146.3C276.1 146.1 276.2 145.9 276.2 145.8 M276.2 147.4C276.3 146.0 276.5 141.0 276.6 138.8C276.8 136.6 276.9 135.3 277.0 134.1C277.2 133.0 277.5 132.2 277.5 131.8C277.5 132.9 277.5 136.3 277.4 138.6C277.4 140.9 277.4 144.1 277.3 145.7C277.2 147.3 277.0 147.7 276.9 148.1C276.8 148.5 276.7 148.1 276.6 148.1C276.6 148.2 276.5 148.2 276.4 148.3C276.3 148.3 276.3 147.2 276.2 148.4C276.2 149.6 276.0 153.7 275.9 155.5C275.7 157.3 275.6 158.4 275.5 159.4C275.3 160.4 275.0 161.0 275.0 161.3C275.0 160.4 275.0 157.6 275.1 155.7C275.1 153.8 275.1 151.1 275.2 149.8C275.3 148.5 275.5 148.2 275.6 147.8C275.7 147.4 275.8 147.8 275.9 147.7C275.9 147.7 276.0 147.6 276.1 147.5C276.2 147.5 276.2 147.4 276.2 147.4 M276.2 136.6C281.5 136.2 298.1 135.4 307.9 134.2C317.7 133.1 326.3 132.9 335.0 129.6C343.6 126.3 352.7 120.9 359.8 114.3C367.0 107.6 373.0 96.2 377.9 89.7C382.8 83.2 386.5 76.6 389.2 75.3C391.9 73.9 392.5 79.5 394.1 81.5C395.7 83.6 398.1 86.6 398.9 87.6C399.0 88.6 400.1 90.9 399.3 93.6C398.6 96.4 396.4 100.6 394.5 104.1C392.6 107.7 390.2 111.4 388.0 114.9C385.8 118.3 383.4 121.7 381.1 124.8C378.8 128.0 376.5 131.0 374.2 133.8C372.0 136.5 369.6 139.2 367.8 141.2C365.9 143.3 364.4 144.8 362.9 146.1C361.4 147.4 364.7 148.3 358.8 149.2C352.9 150.1 337.1 150.5 327.5 151.5C317.8 152.5 307.9 153.8 301.0 155.1C294.1 156.3 290.3 158.0 286.2 159.0C282.0 160.0 277.9 160.7 276.2 161.1 M276.2 133.7C281.0 133.2 296.1 132.5 305.0 131.0C313.9 129.6 321.7 128.6 329.6 125.1C337.4 121.6 345.7 117.0 352.2 110.2C358.6 103.4 364.1 91.4 368.6 84.5C373.0 77.5 376.3 71.0 378.8 68.6C381.4 66.3 382.2 69.5 383.8 70.2C385.5 70.9 388.0 72.4 388.8 72.8C388.9 74.1 389.9 76.9 389.2 80.3C388.5 83.8 386.5 89.0 384.7 93.4C383.0 97.7 380.8 102.4 378.8 106.7C376.8 110.9 374.6 115.1 372.5 119.0C370.4 122.9 368.2 126.7 366.2 130.1C364.1 133.4 362.0 136.8 360.2 139.3C358.5 141.9 357.1 143.7 355.8 145.3C354.4 147.0 357.5 148.2 352.1 149.2C346.6 150.2 332.1 150.3 323.3 151.4C314.4 152.4 305.3 154.2 299.0 155.5C292.7 156.9 289.1 158.4 285.3 159.6C281.6 160.8 277.8 162.3 276.2 162.9 M276.2 132.3C280.4 132.0 293.4 131.6 301.2 130.1C308.9 128.6 315.7 127.5 322.5 123.6C329.3 119.7 336.4 113.5 342.1 106.9C347.7 100.4 352.4 91.3 356.3 84.4C360.1 77.4 362.6 68.5 365.2 65.3C367.8 62.2 369.6 65.5 371.8 65.7C374.0 65.9 377.3 66.3 378.4 66.4C378.5 67.8 379.4 70.9 378.8 74.6C378.2 78.3 376.3 83.9 374.8 88.7C373.2 93.4 371.2 98.5 369.4 103.1C367.5 107.7 365.6 112.3 363.6 116.5C361.7 120.7 359.8 124.8 357.9 128.5C356.1 132.1 354.1 135.7 352.5 138.5C350.9 141.2 349.7 143.2 348.5 145.0C347.2 146.8 350.0 148.0 345.1 149.2C340.2 150.5 327.0 151.1 318.9 152.4C310.9 153.7 302.6 155.5 296.9 157.0C291.2 158.5 288.0 160.1 284.5 161.4C281.1 162.7 277.6 164.2 276.2 164.7 M276.2 131.5C279.9 131.1 291.4 130.4 298.2 129.1C305.1 127.9 311.1 127.8 317.1 124.0C323.1 120.1 329.4 113.2 334.4 106.2C339.4 99.2 343.5 88.9 346.9 81.8C350.3 74.7 352.7 66.6 354.8 63.5C356.9 60.5 358.1 63.6 359.8 63.5C361.5 63.4 364.0 63.2 364.8 63.2C364.9 64.6 365.7 67.8 365.2 71.6C364.7 75.5 363.0 81.4 361.7 86.3C360.3 91.2 358.6 96.5 357.0 101.3C355.4 106.1 353.7 110.8 352.0 115.2C350.4 119.6 348.7 123.8 347.1 127.6C345.5 131.5 343.8 135.2 342.4 138.1C341.0 140.9 340.0 143.0 338.9 144.9C337.8 146.7 340.2 148.1 336.0 149.2C331.7 150.3 320.2 149.9 313.3 151.4C306.3 152.9 299.1 156.5 294.2 158.2C289.2 160.0 286.4 160.6 283.4 161.9C280.4 163.2 277.4 165.2 276.2 165.9 M276.2 131.0C279.4 130.4 289.4 128.9 295.3 127.7C301.2 126.4 306.5 127.4 311.7 123.3C316.9 119.3 322.4 110.6 326.7 103.3C331.0 95.9 334.6 86.0 337.6 79.1C340.5 72.2 342.4 64.8 344.4 61.9C346.4 59.0 347.7 61.9 349.4 61.8C351.1 61.7 353.6 61.4 354.4 61.3C354.5 62.7 355.3 66.0 354.8 70.0C354.3 73.9 352.9 79.9 351.7 84.9C350.5 90.0 349.0 95.3 347.6 100.3C346.2 105.2 344.7 110.0 343.2 114.5C341.7 119.0 340.2 123.3 338.8 127.2C337.4 131.1 335.9 134.9 334.7 137.8C333.5 140.7 332.5 142.9 331.6 144.8C330.6 146.7 332.8 148.1 329.0 149.2C325.2 150.3 315.1 150.0 309.0 151.5C302.8 153.0 296.5 156.3 292.1 158.3C287.7 160.2 285.2 161.6 282.6 163.0C279.9 164.5 277.3 166.1 276.2 166.7 M276.2 130.5C279.1 130.1 287.9 129.4 293.2 127.9C298.4 126.4 303.0 125.3 307.6 121.3C312.3 117.2 317.1 110.7 320.9 103.6C324.7 96.6 328.0 86.4 330.6 79.3C333.2 72.1 334.4 63.9 336.6 60.6C338.9 57.3 342.8 59.8 344.0 59.6C344.1 61.1 344.8 64.4 344.4 68.4C344.0 72.4 342.8 78.6 341.7 83.7C340.7 88.8 339.4 94.3 338.2 99.3C336.9 104.3 335.6 109.2 334.3 113.8C333.1 118.4 331.8 122.8 330.5 126.8C329.3 130.7 328.0 134.6 327.0 137.6C325.9 140.6 325.1 142.7 324.3 144.7C323.5 146.6 325.3 148.0 322.0 149.2C318.8 150.5 310.0 150.6 304.6 152.2C299.3 153.7 293.8 156.5 290.0 158.4C286.2 160.3 284.0 162.3 281.7 163.7C279.5 165.1 277.2 166.5 276.2 167.0 M276.2 130.1C278.8 129.8 286.9 129.5 291.7 128.0C296.5 126.5 300.7 125.1 304.9 121.1C309.2 117.2 313.6 111.6 317.1 104.2C320.6 96.8 323.5 84.1 325.9 76.7C328.3 69.3 329.7 62.9 331.4 59.9C333.1 56.8 335.4 58.6 336.2 58.3C336.3 59.8 337.0 63.2 336.6 67.3C336.3 71.4 335.2 77.5 334.2 82.8C333.3 88.0 332.2 93.5 331.1 98.6C330.0 103.7 328.8 108.7 327.7 113.3C326.6 117.9 325.4 122.4 324.3 126.4C323.3 130.5 322.1 134.4 321.2 137.4C320.3 140.5 319.5 142.6 318.8 144.6C318.1 146.6 319.7 147.9 316.8 149.2C313.9 150.5 306.1 150.9 301.4 152.4C296.7 154.0 291.8 156.7 288.4 158.5C285.0 160.3 283.1 161.8 281.1 163.2C279.1 164.7 277.1 166.5 276.2 167.2 M276.2 129.9C278.6 129.5 285.8 129.0 290.1 127.6C294.3 126.2 298.1 126.0 301.9 121.7C305.7 117.3 309.6 109.1 312.8 101.5C315.9 93.9 318.5 83.3 320.7 76.3C322.8 69.3 323.9 62.4 325.6 59.2C327.3 56.1 330.1 57.9 331.0 57.6C331.1 59.1 331.7 62.5 331.4 66.6C331.1 70.7 330.1 77.0 329.3 82.2C328.4 87.5 327.4 93.1 326.4 98.2C325.4 103.3 324.3 108.3 323.3 113.0C322.3 117.7 321.2 122.2 320.2 126.2C319.2 130.3 318.2 134.3 317.3 137.3C316.5 140.4 315.8 142.6 315.2 144.6C314.5 146.6 316.0 148.0 313.3 149.2C310.7 150.4 303.6 150.2 299.3 151.7C294.9 153.2 290.5 156.2 287.4 158.1C284.3 159.9 282.6 161.2 280.7 162.8C278.8 164.3 277.0 166.6 276.2 167.3 M276.2 162.9C274.2 166.7 267.7 180.5 263.7 185.8C259.6 191.1 255.9 191.8 252.2 194.5C248.5 197.1 245.5 199.1 241.6 201.7C237.7 204.3 232.9 207.5 228.9 210.0C224.8 212.4 221.3 214.0 217.3 216.2C213.3 218.4 209.1 221.8 205.1 223.1C201.1 224.5 197.2 223.1 193.2 224.5C189.2 225.8 185.0 229.4 181.1 231.3C177.3 233.1 172.8 235.8 170.0 235.6C167.3 235.3 166.3 231.3 164.4 229.9C162.5 228.4 159.7 227.4 158.8 226.9 M276.2 162.2C274.2 166.6 267.9 182.9 263.9 188.8C259.9 194.7 256.1 195.3 252.3 197.4C248.6 199.6 244.8 199.9 241.2 201.6C237.5 203.3 234.5 205.2 230.4 207.8C226.4 210.3 220.8 215.5 216.9 217.1C212.9 218.6 210.5 216.2 206.8 217.1C203.1 218.1 198.8 221.1 194.6 222.8C190.4 224.6 185.7 226.5 181.8 227.6C178.0 228.7 174.0 229.8 171.3 229.5C168.7 229.1 167.7 226.5 165.8 225.5C164.0 224.4 161.2 223.4 160.3 223.0 M276.2 164.7C274.7 168.2 270.3 179.6 266.9 185.4C263.5 191.2 259.3 196.1 255.7 199.6C252.1 203.0 248.7 204.2 245.5 206.1C242.3 208.1 239.7 209.3 236.5 211.5C233.3 213.6 229.9 216.7 226.6 219.1C223.2 221.4 220.0 223.4 216.6 225.7C213.2 227.9 209.5 230.9 206.2 232.8C202.8 234.7 200.0 235.9 196.6 237.0C193.2 238.2 188.7 239.5 186.0 239.8C183.4 240.0 182.5 238.7 180.7 238.5C178.9 238.3 177.1 239.0 175.4 238.6C173.6 238.1 170.9 236.3 170.0 235.9 M276.2 163.8C274.5 168.4 268.7 185.6 265.5 191.5C262.3 197.4 260.1 195.9 256.8 198.9C253.5 201.9 249.0 207.0 245.7 209.4C242.4 211.7 240.0 211.0 236.8 212.7C233.6 214.5 229.8 217.7 226.6 219.8C223.3 221.9 220.5 224.3 217.2 225.5C213.9 226.8 209.8 226.7 206.6 227.5C203.5 228.3 201.5 229.4 198.3 230.5C195.1 231.6 190.0 233.4 187.3 233.9C184.6 234.5 183.8 233.9 182.1 233.9C180.3 233.9 178.6 234.4 176.8 233.8C175.1 233.3 172.5 231.2 171.6 230.7 M276.2 165.9C274.8 169.4 270.1 181.4 267.4 187.2C264.7 193.0 262.8 197.2 259.9 200.7C257.1 204.3 253.0 205.9 250.2 208.4C247.4 211.0 245.8 213.8 243.1 216.0C240.4 218.2 236.6 219.3 233.9 221.5C231.2 223.7 229.7 227.1 226.9 229.3C224.0 231.4 219.7 232.9 216.8 234.3C213.8 235.8 211.8 236.3 209.2 238.0C206.5 239.7 203.1 243.8 200.9 244.3C198.7 244.8 197.6 241.8 196.0 241.1C194.3 240.5 192.7 240.5 191.0 240.4C189.3 240.3 186.8 240.6 186.0 240.6 M276.2 164.8C274.9 169.6 270.6 187.1 268.0 193.4C265.5 199.8 263.5 200.0 260.9 202.8C258.3 205.7 255.4 208.8 252.3 210.7C249.3 212.5 245.7 212.8 242.7 214.1C239.8 215.4 237.3 216.3 234.7 218.5C232.0 220.7 229.7 225.2 226.9 227.2C224.1 229.1 220.7 229.6 218.0 230.4C215.4 231.1 213.5 230.3 210.9 231.7C208.2 233.1 204.5 237.7 202.2 238.6C200.0 239.6 199.0 237.6 197.4 237.5C195.7 237.3 194.1 238.1 192.5 237.6C190.8 237.2 188.4 235.4 187.6 235.0 M276.2 166.7C275.2 170.8 272.4 185.5 269.7 191.4C267.1 197.4 263.2 199.9 260.5 202.5C257.9 205.2 256.0 205.3 253.8 207.5C251.5 209.6 249.6 213.2 247.3 215.5C245.0 217.7 242.7 218.6 240.1 221.1C237.4 223.6 233.8 228.2 231.3 230.2C228.8 232.2 227.7 231.9 225.1 233.3C222.5 234.7 218.5 236.9 215.9 238.8C213.3 240.7 211.9 243.8 209.4 244.6C206.9 245.4 202.4 243.8 200.9 243.7 M276.2 165.6C275.0 170.2 271.2 186.9 268.7 193.5C266.1 200.0 263.4 202.2 260.9 205.0C258.4 207.9 256.0 208.5 253.9 210.6C251.8 212.8 250.3 215.9 248.2 217.9C246.0 220.0 243.6 221.7 240.9 222.8C238.2 223.9 234.7 223.1 232.2 224.5C229.7 225.8 228.6 229.1 226.0 230.8C223.5 232.5 219.5 233.3 216.9 234.6C214.4 235.9 213.1 238.0 210.7 238.5C208.3 239.1 203.9 237.9 202.5 237.8 M276.2 167.0C275.3 171.1 272.7 186.1 270.4 191.5C268.2 196.9 265.2 196.2 262.7 199.3C260.2 202.3 257.5 207.1 255.4 209.8C253.4 212.6 252.5 213.1 250.3 215.6C248.1 218.2 244.6 223.3 242.2 225.2C239.7 227.2 237.7 226.0 235.6 227.4C233.4 228.8 231.3 231.4 229.3 233.6C227.4 235.8 226.1 238.6 223.9 240.5C221.8 242.4 219.0 244.6 216.5 245.2C214.1 245.8 210.6 244.5 209.4 244.4 M276.2 165.8C275.3 170.2 273.1 186.3 270.8 192.3C268.6 198.2 265.1 198.5 262.7 201.7C260.3 204.8 258.6 209.1 256.3 211.3C254.1 213.5 251.1 213.4 249.1 215.0C247.2 216.6 246.6 218.6 244.8 220.9C243.0 223.2 240.8 227.2 238.3 228.8C235.9 230.5 232.3 230.3 230.2 230.9C228.0 231.5 227.4 231.1 225.4 232.5C223.3 233.8 220.2 237.9 217.8 238.8C215.4 239.8 212.1 238.3 210.9 238.2 M276.2 167.2C275.2 171.1 271.8 185.3 269.8 190.7C267.8 196.1 266.3 196.4 264.3 199.4C262.2 202.3 259.6 205.7 257.7 208.4C255.8 211.1 254.6 213.2 252.8 215.6C251.0 218.1 249.0 220.6 246.8 223.0C244.7 225.5 242.1 228.4 240.0 230.2C237.9 232.0 236.1 231.9 234.1 233.7C232.0 235.6 229.5 239.6 227.5 241.4C225.6 243.2 224.2 243.9 222.4 244.4C220.5 245.0 217.5 244.7 216.5 244.7 M276.2 166.0C275.2 170.9 271.9 189.2 269.8 195.3C267.7 201.5 265.4 200.7 263.5 202.8C261.6 204.9 259.9 206.1 258.3 208.0C256.7 209.9 255.7 211.4 253.8 214.1C251.8 216.8 248.7 222.0 246.5 224.1C244.2 226.2 242.0 225.5 240.3 226.8C238.5 228.0 237.7 229.9 235.8 231.4C233.9 232.9 230.9 234.4 228.9 235.6C226.9 236.8 225.5 238.1 223.7 238.6C221.9 239.1 219.0 238.5 218.1 238.5 M276.2 167.3C275.4 171.1 272.9 184.2 271.3 189.8C269.6 195.4 268.2 197.9 266.3 201.1C264.3 204.3 261.5 206.2 259.5 209.0C257.5 211.7 256.2 215.1 254.5 217.5C252.8 219.9 251.1 221.0 249.3 223.4C247.5 225.7 245.5 229.1 243.6 231.5C241.8 233.8 239.9 235.9 238.4 237.4C236.8 239.0 236.0 239.4 234.3 240.9C232.6 242.4 230.2 245.8 228.2 246.5C226.2 247.2 223.3 245.2 222.4 245.0 M276.2 169.7C275.4 173.2 272.9 184.9 271.4 190.8C269.8 196.6 268.3 201.3 266.9 204.8C265.5 208.2 264.2 208.8 262.8 211.5C261.4 214.2 260.1 218.9 258.5 221.1C256.8 223.3 254.4 223.1 252.8 224.5C251.1 226.0 250.5 227.8 248.8 230.1C247.1 232.4 244.3 235.9 242.5 238.2C240.7 240.5 239.4 242.5 238.0 243.8C236.6 245.2 235.7 246.0 234.1 246.4C232.4 246.8 229.2 246.2 228.2 246.1 M276.2 173.1C275.6 176.5 273.8 188.4 272.4 193.6C271.0 198.8 269.3 200.7 267.9 204.3C266.5 207.9 265.2 212.6 264.0 215.1C262.8 217.6 262.1 217.2 260.6 219.2C259.2 221.2 256.7 224.4 255.3 227.0C253.9 229.5 253.5 232.1 252.2 234.3C251.0 236.4 249.2 238.2 247.7 239.9C246.2 241.6 244.7 243.1 243.4 244.4C242.1 245.7 241.4 247.4 239.9 247.9C238.3 248.4 235.0 247.5 234.1 247.4 M276.2 177.7C275.7 181.4 274.4 194.7 273.1 200.0C271.8 205.2 269.5 206.2 268.4 209.2C267.2 212.1 267.3 215.0 266.2 217.4C265.2 219.9 263.2 222.1 262.0 223.9C260.9 225.7 260.7 226.4 259.5 228.3C258.3 230.3 255.9 233.8 254.6 235.6C253.3 237.3 252.8 237.0 251.8 238.6C250.8 240.2 249.9 243.6 248.8 245.2C247.7 246.9 246.6 248.1 245.1 248.6C243.6 249.1 240.8 248.2 239.9 248.1"/>
<path class="r" d="M276.2 132.5C281.0 132.0 295.8 130.7 304.6 129.2C313.4 127.8 321.1 127.5 328.9 123.9C336.7 120.2 344.8 114.2 351.2 107.3C357.6 100.5 363.0 89.9 367.4 82.6C371.8 75.4 374.6 66.7 377.5 63.8C380.4 60.9 382.3 64.8 384.7 65.3C387.0 65.7 390.6 66.4 391.8 66.6C391.9 68.0 392.9 71.1 392.2 74.8C391.5 78.5 389.4 84.1 387.6 88.8C385.8 93.6 383.6 98.6 381.5 103.2C379.4 107.8 377.2 112.4 375.0 116.6C372.9 120.8 370.6 124.9 368.5 128.5C366.5 132.2 364.2 135.8 362.4 138.5C360.7 141.3 359.3 143.2 357.9 145.0C356.5 146.8 359.6 148.1 354.1 149.2C348.5 150.3 333.6 150.3 324.5 151.6C315.4 152.9 306.1 155.4 299.6 156.9C293.1 158.4 289.5 159.7 285.6 160.8C281.7 161.9 279.8 160.7 276.2 163.7C272.7 166.7 269.3 174.5 264.3 179.0C259.3 183.5 252.6 186.8 246.3 191.0C239.9 195.2 233.3 199.8 226.3 204.2C219.3 208.6 210.9 213.0 204.3 217.4C197.6 221.8 190.9 227.8 186.3 230.8C181.6 233.7 179.2 234.7 176.3 235.1C173.4 235.5 171.4 233.9 168.9 233.2C166.5 232.5 162.8 231.4 161.6 231.1C161.6 226.4 161.6 207.9 161.6 203.3C161.7 202.2 161.9 198.8 162.3 196.9C162.7 195.0 163.3 193.7 164.0 192.0C164.7 190.3 165.7 188.6 166.7 186.6C167.7 184.7 168.7 182.5 170.0 180.5C171.2 178.4 172.5 176.5 174.1 174.4C175.8 172.3 177.9 170.2 180.1 167.8C182.3 165.5 184.6 162.6 187.3 160.2C190.0 157.7 193.1 155.5 196.5 153.2C200.0 150.8 204.1 148.2 208.2 146.2C212.3 144.1 215.5 142.3 221.3 141.0C227.2 139.7 236.4 139.2 243.3 138.3C250.2 137.5 257.8 136.6 262.5 135.9C267.3 135.1 269.6 134.1 271.9 133.6C274.1 133.0 275.5 132.7 276.2 132.5 M276.2 131.4C280.2 130.9 292.6 129.9 299.9 128.4C307.2 127.0 313.7 126.8 320.1 122.7C326.6 118.6 333.4 111.6 338.7 104.0C344.0 96.3 348.5 84.7 352.2 76.9C355.9 69.2 357.8 60.1 360.6 57.2C363.5 54.3 366.3 59.0 369.1 59.7C371.9 60.5 376.1 61.3 377.5 61.6C377.6 63.1 378.5 66.3 377.9 70.3C377.3 74.2 375.5 80.2 373.9 85.2C372.3 90.2 370.4 95.5 368.6 100.4C366.7 105.3 364.8 110.1 362.9 114.6C361.0 119.1 359.0 123.4 357.2 127.3C355.4 131.1 353.4 134.9 351.8 137.9C350.3 140.8 349.1 142.9 347.8 144.8C346.6 146.7 349.4 148.1 344.5 149.2C339.6 150.4 326.5 150.1 318.6 151.6C310.6 153.0 302.4 156.0 296.7 157.7C291.0 159.4 287.9 160.4 284.4 161.6C281.0 162.9 279.3 162.1 276.2 165.2C273.2 168.3 270.5 174.9 266.3 180.3C262.2 185.7 256.7 192.3 251.4 197.5C246.2 202.6 240.7 206.6 234.9 211.2C229.1 215.7 222.2 220.7 216.7 224.9C211.2 229.2 205.7 233.8 201.8 236.8C198.0 239.8 196.4 242.4 193.5 243.0C190.7 243.6 187.8 241.1 184.9 240.2C182.0 239.3 177.7 238.2 176.3 237.8C176.3 232.8 176.3 212.7 176.3 207.7C176.4 206.7 176.6 203.5 177.0 201.4C177.4 199.4 177.9 197.4 178.7 195.4C179.4 193.4 180.4 191.4 181.4 189.4C182.4 187.3 183.4 185.2 184.6 183.2C185.9 181.2 187.1 179.7 188.8 177.4C190.5 175.2 192.6 172.2 194.8 169.7C197.0 167.1 199.2 164.9 202.0 162.2C204.7 159.5 207.7 156.3 211.2 153.7C214.7 151.0 218.7 148.5 222.9 146.3C227.0 144.1 231.1 141.9 236.0 140.5C240.9 139.0 247.1 138.6 252.1 137.4C257.1 136.3 262.7 134.5 266.2 133.6C269.7 132.6 271.4 132.2 273.0 131.9C274.7 131.5 275.7 131.5 276.2 131.4 M276.2 129.8C279.7 129.4 290.6 128.5 297.0 127.1C303.4 125.6 309.1 125.6 314.7 121.0C320.4 116.4 326.3 107.5 331.0 99.5C335.7 91.4 339.6 80.4 342.9 72.6C346.1 64.8 348.2 55.9 350.3 52.8C352.4 49.7 353.7 53.7 355.4 54.0C357.2 54.4 359.8 54.7 360.6 54.9C360.7 56.4 361.5 59.9 361.0 64.2C360.5 68.4 359.0 74.8 357.7 80.2C356.4 85.7 354.8 91.4 353.2 96.7C351.7 102.0 350.1 107.1 348.5 111.9C346.9 116.7 345.3 121.4 343.8 125.6C342.2 129.7 340.6 133.8 339.3 137.0C338.0 140.1 337.0 142.4 336.0 144.4C334.9 146.5 337.3 148.0 333.2 149.2C329.1 150.5 318.2 150.3 311.5 151.9C304.9 153.4 298.1 156.6 293.3 158.6C288.6 160.5 285.9 162.2 283.1 163.6C280.2 165.0 278.8 164.0 276.2 167.1C273.7 170.1 271.2 176.5 267.5 181.8C263.9 187.1 259.0 193.3 254.4 198.9C249.8 204.6 245.0 210.9 239.9 215.8C234.8 220.6 228.7 223.7 223.9 227.9C219.1 232.2 214.2 237.7 210.8 241.0C207.4 244.3 205.6 246.9 203.5 247.9C201.5 248.9 200.2 247.3 198.5 247.0C196.9 246.7 194.4 246.1 193.5 245.9C193.5 240.5 193.5 218.6 193.5 213.2C193.7 211.9 193.9 207.8 194.3 205.7C194.7 203.6 195.2 202.6 195.9 200.5C196.7 198.5 197.6 195.5 198.6 193.2C199.6 191.0 200.7 189.6 201.9 187.3C203.2 185.1 204.4 182.4 206.1 179.8C207.8 177.2 209.9 174.5 212.1 171.8C214.3 169.1 216.5 166.5 219.2 163.6C222.0 160.7 225.0 157.8 228.5 154.6C232.0 151.5 236.0 147.6 240.1 144.7C244.3 141.8 249.5 139.0 253.3 137.4C257.0 135.8 259.6 136.0 262.5 135.1C265.3 134.1 268.5 132.6 270.5 131.9C272.5 131.2 273.5 131.2 274.4 130.8C275.4 130.5 275.9 130.0 276.2 129.8 M276.2 128.8C279.3 128.3 288.8 127.6 294.4 126.1C300.1 124.5 305.0 124.0 310.0 119.6C315.0 115.2 320.2 107.7 324.3 99.5C328.4 91.2 331.9 78.7 334.7 70.2C337.5 61.7 339.3 52.0 341.2 48.6C343.0 45.2 344.2 49.4 345.7 49.7C347.2 50.0 349.5 50.2 350.3 50.3C350.3 51.9 351.1 55.6 350.6 60.1C350.2 64.5 348.9 71.2 347.7 76.9C346.6 82.6 345.1 88.6 343.8 94.1C342.5 99.7 341.0 105.1 339.7 110.1C338.3 115.2 336.8 120.1 335.5 124.4C334.2 128.8 332.7 133.1 331.6 136.4C330.5 139.7 329.6 142.1 328.7 144.2C327.8 146.3 329.8 147.9 326.2 149.2C322.7 150.6 313.1 150.8 307.2 152.5C301.4 154.1 295.4 157.0 291.2 158.9C287.1 160.8 284.7 162.2 282.2 163.8C279.7 165.3 278.5 164.7 276.2 168.2C274.0 171.7 271.8 179.5 268.5 184.9C265.3 190.3 261.0 195.2 257.0 200.7C252.9 206.2 248.6 212.5 244.1 217.9C239.6 223.3 234.3 228.4 230.0 233.2C225.7 238.0 221.4 243.6 218.4 246.7C215.4 249.7 213.8 250.6 212.0 251.4C210.2 252.2 209.2 251.6 207.8 251.5C206.4 251.5 204.2 251.1 203.5 251.0C203.5 245.2 203.5 222.3 203.5 216.5C203.7 215.3 203.9 211.4 204.3 209.2C204.7 207.0 205.2 205.6 205.9 203.3C206.7 201.1 207.6 198.1 208.6 195.8C209.6 193.4 210.7 191.4 211.9 189.1C213.1 186.8 214.4 184.7 216.1 182.1C217.8 179.4 219.9 176.1 222.1 173.2C224.2 170.2 226.5 167.2 229.2 164.2C232.0 161.1 235.0 158.3 238.5 154.8C242.0 151.3 246.0 146.7 250.1 143.2C254.3 139.8 260.2 136.0 263.3 134.2C266.3 132.3 266.8 132.9 268.5 132.1C270.1 131.4 271.9 130.2 273.0 129.8C274.1 129.3 274.7 129.5 275.2 129.4C275.8 129.2 276.1 128.9 276.2 128.8 M276.2 127.8C278.9 127.2 287.3 126.2 292.2 124.5C297.2 122.9 301.6 122.6 306.0 117.8C310.3 113.0 314.9 103.9 318.5 95.6C322.1 87.3 325.2 76.1 327.7 67.9C330.1 59.7 331.1 50.0 333.4 46.3C335.6 42.7 339.9 46.1 341.2 46.1C341.2 47.8 341.9 51.6 341.6 56.3C341.2 60.9 340.0 67.9 339.0 73.8C338.0 79.7 336.7 86.0 335.6 91.8C334.4 97.6 333.1 103.2 331.9 108.5C330.7 113.7 329.5 118.8 328.3 123.4C327.1 127.9 325.8 132.4 324.8 135.8C323.8 139.3 323.1 141.8 322.3 144.0C321.5 146.2 323.3 147.9 320.1 149.2C317.0 150.6 308.6 150.4 303.5 152.1C298.3 153.7 293.1 156.8 289.4 158.9C285.8 161.0 283.7 162.9 281.5 164.6C279.3 166.2 278.3 165.6 276.2 169.1C274.2 172.5 272.3 179.8 269.5 185.3C266.6 190.8 262.9 196.5 259.3 202.1C255.7 207.8 252.0 213.7 248.0 219.1C244.1 224.6 239.4 230.1 235.6 234.8C231.8 239.4 228.1 244.3 225.4 247.2C222.8 250.1 222.0 250.9 219.8 252.1C217.5 253.3 213.3 254.2 212.0 254.6C212.0 248.6 212.0 224.9 212.0 218.9C212.1 217.6 212.3 213.2 212.7 210.9C213.1 208.6 213.6 207.3 214.4 205.1C215.1 202.9 216.1 200.3 217.1 197.9C218.1 195.6 219.1 193.4 220.3 190.9C221.6 188.4 222.8 185.7 224.5 182.8C226.2 180.0 228.3 176.9 230.5 173.9C232.7 170.8 234.9 168.1 237.7 164.8C240.4 161.4 243.4 157.8 246.9 153.9C250.4 150.0 254.4 145.3 258.6 141.4C262.7 137.5 268.9 132.5 271.7 130.3C274.5 128.1 274.4 128.9 275.1 128.4C275.9 128.0 276.1 127.9 276.2 127.8 M276.2 127.2C278.6 126.7 286.0 126.0 290.4 124.3C294.8 122.7 298.7 122.0 302.6 117.4C306.5 112.8 310.5 105.3 313.7 96.6C316.9 87.9 319.6 73.8 321.8 65.2C324.0 56.6 325.0 48.6 326.9 45.0C328.8 41.5 332.3 44.0 333.4 43.7C333.4 45.5 334.1 49.4 333.8 54.2C333.5 58.9 332.4 66.1 331.5 72.1C330.6 78.2 329.5 84.6 328.5 90.5C327.5 96.4 326.4 102.2 325.3 107.5C324.2 112.9 323.1 118.1 322.1 122.8C321.0 127.5 319.9 132.0 319.1 135.5C318.2 139.1 317.5 141.6 316.8 143.9C316.1 146.2 317.7 147.9 314.9 149.2C312.2 150.6 304.7 150.3 300.2 152.0C295.7 153.6 291.1 157.0 287.8 159.2C284.6 161.4 282.8 163.5 280.9 165.2C279.0 166.9 278.0 166.3 276.2 169.3C274.5 172.4 272.8 177.9 270.3 183.4C267.8 188.9 264.4 196.7 261.3 202.5C258.1 208.3 254.8 212.7 251.3 218.1C247.8 223.6 243.6 230.7 240.3 235.4C236.9 240.0 233.6 243.3 231.3 246.1C228.9 248.9 228.2 250.6 226.3 252.2C224.3 253.7 220.9 254.8 219.8 255.3C219.8 249.3 219.8 225.4 219.8 219.4C219.9 218.1 220.1 213.9 220.4 211.6C220.8 209.2 221.3 207.5 222.0 205.3C222.6 203.1 223.5 200.7 224.4 198.3C225.3 195.9 226.3 193.3 227.4 190.9C228.6 188.5 229.7 186.5 231.3 183.8C232.8 181.0 234.7 177.7 236.8 174.5C238.8 171.4 240.8 168.6 243.3 165.0C245.8 161.4 248.6 157.2 251.8 153.1C255.0 149.0 258.7 144.3 262.5 140.3C266.3 136.2 272.3 130.8 274.6 128.6C276.8 126.4 276.0 127.4 276.2 127.2 M276.2 126.1C278.3 125.3 284.9 123.4 288.8 121.4C292.7 119.4 296.1 118.8 299.5 114.0C303.0 109.3 306.6 100.9 309.4 92.7C312.2 84.5 314.6 72.8 316.6 64.8C318.5 56.8 319.3 48.4 321.0 44.7C322.8 41.0 325.9 42.8 326.9 42.4C326.9 44.2 327.5 48.2 327.3 52.9C327.0 57.7 326.0 65.0 325.3 71.1C324.5 77.3 323.5 83.8 322.6 89.7C321.7 95.7 320.7 101.6 319.8 107.0C318.8 112.5 317.8 117.7 316.9 122.4C316.0 127.2 315.0 131.8 314.2 135.4C313.5 138.9 312.8 141.5 312.2 143.8C311.6 146.1 313.0 147.8 310.6 149.2C308.1 150.7 301.5 150.6 297.5 152.4C293.5 154.1 289.4 157.5 286.5 159.7C283.7 161.9 282.1 163.8 280.4 165.7C278.7 167.5 277.8 167.3 276.2 170.6C274.7 173.8 273.2 179.8 271.0 185.2C268.7 190.7 265.8 197.8 263.0 203.4C260.2 209.1 257.3 214.4 254.2 219.1C251.1 223.9 247.4 227.3 244.5 232.0C241.5 236.6 238.6 243.6 236.5 246.9C234.5 250.2 233.8 250.4 232.1 251.8C230.4 253.3 227.2 254.8 226.3 255.4C226.3 249.4 226.3 225.5 226.3 219.5C226.4 218.1 226.5 213.8 226.8 211.4C227.2 209.1 227.6 207.4 228.2 205.2C228.8 203.1 229.6 200.8 230.4 198.4C231.2 196.0 232.0 193.3 233.1 190.7C234.1 188.2 235.1 185.8 236.4 183.1C237.8 180.4 239.5 177.4 241.3 174.3C243.1 171.1 244.9 167.9 247.1 164.2C249.3 160.5 251.8 156.4 254.6 152.2C257.5 148.1 260.7 143.6 264.1 139.4C267.4 135.2 272.7 129.4 274.8 127.1C276.8 124.9 276.0 126.3 276.2 126.1 M276.2 122.7C278.1 120.7 283.8 114.5 287.2 110.6C290.5 106.7 293.5 104.2 296.5 99.3C299.5 94.3 302.6 87.3 305.1 80.7C307.5 74.0 309.6 65.3 311.3 59.4C313.0 53.5 313.6 48.2 315.2 45.3C316.8 42.4 320.1 42.6 321.0 42.0C321.1 43.8 321.7 47.8 321.4 52.6C321.2 57.4 320.3 64.7 319.7 70.9C319.0 77.0 318.1 83.5 317.3 89.5C316.5 95.5 315.6 101.4 314.8 106.9C313.9 112.3 313.1 117.6 312.3 122.4C311.5 127.1 310.6 131.8 309.9 135.3C309.2 138.9 308.7 141.5 308.1 143.8C307.6 146.1 308.8 147.7 306.7 149.2C304.5 150.8 298.6 151.1 295.1 153.1C291.6 155.1 287.9 158.6 285.4 161.1C282.8 163.7 281.4 166.1 279.9 168.3C278.4 170.4 277.6 170.1 276.2 173.9C274.9 177.7 273.5 185.2 271.6 191.0C269.6 196.8 267.0 203.1 264.6 208.5C262.1 213.9 259.5 218.8 256.8 223.5C254.0 228.1 250.8 232.9 248.2 236.7C245.6 240.5 243.0 243.7 241.2 246.0C239.4 248.4 238.8 249.4 237.3 250.9C235.8 252.4 233.0 254.4 232.1 255.1C232.1 249.1 232.1 225.2 232.1 219.2C232.2 218.0 232.3 214.1 232.6 211.7C232.9 209.3 233.3 207.2 233.8 204.9C234.3 202.6 235.0 200.2 235.7 197.9C236.5 195.5 237.2 193.2 238.1 190.7C239.0 188.3 239.9 186.0 241.1 183.2C242.3 180.4 243.8 177.2 245.4 174.0C247.0 170.7 248.6 167.5 250.5 163.8C252.5 160.0 254.7 156.2 257.2 151.7C259.7 147.2 262.5 141.5 265.5 136.8C268.5 132.2 273.1 126.1 274.9 123.7C276.7 121.4 276.0 122.9 276.2 122.7 M276.2 119.5C277.8 116.4 282.8 106.5 285.7 101.0C288.6 95.6 291.2 92.0 293.8 86.9C296.4 81.8 299.1 75.6 301.2 70.7C303.4 65.7 305.2 61.2 306.6 57.1C308.1 53.0 308.6 48.3 310.0 45.8C311.4 43.4 314.3 43.2 315.2 42.7C315.3 44.4 315.8 48.4 315.6 53.2C315.4 58.0 314.6 65.2 314.0 71.3C313.4 77.4 312.7 83.9 312.0 89.9C311.3 95.8 310.5 101.6 309.8 107.1C309.1 112.5 308.3 117.8 307.6 122.5C306.9 127.2 306.2 131.8 305.6 135.4C305.0 138.9 304.5 141.5 304.0 143.8C303.6 146.1 304.6 147.6 302.7 149.2C300.8 150.8 295.8 151.0 292.7 153.3C289.6 155.6 286.4 160.2 284.2 163.1C282.0 166.1 280.8 168.8 279.4 171.0C278.1 173.2 277.5 172.2 276.2 176.6C275.0 181.0 273.9 191.6 272.2 197.2C270.5 202.9 268.3 205.7 266.1 210.4C264.0 215.0 261.7 221.0 259.4 225.1C257.0 229.2 254.2 232.0 251.9 235.0C249.7 237.9 247.4 240.4 245.9 242.7C244.3 245.1 243.9 247.2 242.5 249.1C241.1 251.0 238.2 253.2 237.3 254.1C237.3 249.6 237.3 231.9 237.3 227.4C237.4 226.0 237.5 221.3 237.8 218.7C238.0 216.2 238.4 214.4 238.8 212.0C239.3 209.5 239.9 206.6 240.5 203.9C241.1 201.2 241.8 198.6 242.6 195.9C243.4 193.2 244.2 190.7 245.2 187.6C246.3 184.4 247.6 181.0 249.0 177.3C250.4 173.6 251.8 169.8 253.5 165.5C255.3 161.3 257.2 156.9 259.4 152.0C261.6 147.0 264.2 141.1 266.8 136.0C269.4 130.8 273.5 123.9 275.1 121.1C276.7 118.4 276.1 119.8 276.2 119.5 M276.2 113.9C277.6 110.1 281.8 97.4 284.2 91.0C286.7 84.7 288.9 80.6 291.1 75.8C293.3 70.9 295.6 65.7 297.4 62.0C299.2 58.4 300.7 56.4 302.0 53.9C303.2 51.3 303.5 48.4 304.8 46.7C306.2 44.9 309.1 43.8 310.0 43.2C310.1 45.0 310.5 49.0 310.4 53.7C310.2 58.5 309.6 65.6 309.1 71.7C308.6 77.8 308.0 84.2 307.4 90.1C306.8 96.0 306.2 101.8 305.6 107.2C305.0 112.6 304.4 117.8 303.8 122.5C303.2 127.2 302.6 131.8 302.1 135.3C301.6 138.8 301.2 141.4 300.8 143.7C300.4 146.0 301.4 147.2 299.8 149.0C298.1 150.9 293.6 152.0 290.8 154.7C288.1 157.5 285.3 162.4 283.3 165.7C281.3 169.0 280.2 171.8 279.1 174.4C277.9 177.1 277.3 177.3 276.2 181.8C275.2 186.4 274.3 196.1 272.8 201.6C271.4 207.2 269.5 210.7 267.7 215.0C265.9 219.3 264.0 223.8 262.0 227.4C260.0 231.0 257.6 233.7 255.7 236.4C253.8 239.1 251.9 241.9 250.5 243.7C249.2 245.5 249.0 245.8 247.7 247.2C246.3 248.7 243.4 251.4 242.5 252.2C242.5 247.9 242.5 230.4 242.5 226.0C242.6 224.6 242.7 220.0 242.9 217.6C243.1 215.1 243.4 213.6 243.8 211.1C244.2 208.7 244.7 205.3 245.3 202.7C245.8 200.1 246.4 198.3 247.1 195.6C247.8 193.0 248.4 190.2 249.4 186.9C250.3 183.6 251.4 179.8 252.6 176.1C253.8 172.4 255.1 169.0 256.6 164.6C258.1 160.2 259.7 154.9 261.6 149.4C263.6 144.0 265.8 137.6 268.0 131.9C270.3 126.2 273.9 118.3 275.2 115.3C276.6 112.3 276.1 114.1 276.2 113.9 M276.2 108.5C277.7 102.6 282.0 82.2 284.8 73.0C287.7 63.9 290.1 58.6 293.4 53.7C296.7 48.9 302.9 45.7 304.8 44.1C304.3 51.3 302.9 72.8 302.0 87.7C301.0 102.6 300.9 121.5 299.0 133.4C297.1 145.3 292.9 153.6 290.5 158.8C288.2 164.1 286.7 161.6 284.8 164.7C283.0 167.8 280.8 173.8 279.4 177.5C278.0 181.2 278.2 179.5 276.2 186.8C274.3 194.2 270.5 212.8 267.7 221.7C264.8 230.7 262.4 236.0 259.1 240.8C255.8 245.5 249.6 248.7 247.7 250.3C248.2 243.1 249.6 222.0 250.5 207.3C251.5 192.6 251.6 174.0 253.5 162.3C255.4 150.5 259.6 142.1 262.0 136.9C264.3 131.7 265.8 134.1 267.7 131.0C269.5 127.8 271.7 121.7 273.1 117.9C274.5 114.2 275.7 110.1 276.2 108.5 M276.2 105.3C277.5 99.8 281.1 80.8 283.5 72.3C285.9 63.8 287.9 58.8 290.7 54.3C293.5 49.8 298.7 46.8 300.3 45.3C299.9 52.5 298.7 73.7 297.9 88.4C297.0 103.1 296.9 121.7 295.3 133.6C293.7 145.4 290.2 154.2 288.3 159.6C286.3 164.9 285.0 162.5 283.5 165.8C281.9 169.1 280.1 175.5 278.9 179.5C277.7 183.4 277.9 182.4 276.2 189.4C274.6 196.5 271.4 213.3 269.0 221.6C266.6 229.9 264.6 234.8 261.8 239.2C259.0 243.6 253.8 246.5 252.2 247.9C252.6 240.9 253.8 220.3 254.6 205.9C255.5 191.6 255.6 173.6 257.2 161.9C258.8 150.3 262.3 141.4 264.2 136.0C266.2 130.6 267.5 133.0 269.0 129.6C270.6 126.2 272.4 119.6 273.6 115.6C274.8 111.5 275.8 107.0 276.2 105.3 M276.2 103.2C277.3 98.0 280.3 80.0 282.3 71.9C284.3 63.9 286.0 59.1 288.3 54.9C290.7 50.6 295.0 47.7 296.4 46.3C296.0 53.4 295.0 74.4 294.4 89.0C293.7 103.6 293.6 121.9 292.2 133.7C290.9 145.6 288.0 154.6 286.3 160.0C284.7 165.5 283.6 163.0 282.3 166.5C281.0 169.9 279.5 176.6 278.5 180.7C277.5 184.8 277.6 184.3 276.2 191.1C274.9 197.8 272.2 213.5 270.2 221.2C268.2 229.0 266.5 233.6 264.2 237.7C261.8 241.8 257.5 244.6 256.1 245.9C256.5 239.1 257.5 218.8 258.1 204.8C258.8 190.7 258.9 173.2 260.3 161.7C261.6 150.1 264.5 140.9 266.2 135.4C267.8 129.9 268.9 132.3 270.2 128.7C271.5 125.1 273.0 118.2 274.0 114.0C275.0 109.7 275.9 105.0 276.2 103.2 M276.2 104.1C277.1 99.0 279.6 81.4 281.3 73.4C283.0 65.5 284.4 60.9 286.4 56.7C288.3 52.5 292.0 49.7 293.1 48.4C292.8 55.3 292.0 75.9 291.4 90.2C290.9 104.5 290.8 122.4 289.7 134.0C288.5 145.6 286.1 154.5 284.7 159.8C283.3 165.2 282.4 162.8 281.3 166.2C280.2 169.6 279.0 176.1 278.1 180.2C277.3 184.2 277.4 183.7 276.2 190.3C275.1 197.0 272.9 212.3 271.2 220.0C269.5 227.6 268.1 232.1 266.1 236.2C264.2 240.2 260.5 242.9 259.4 244.2C259.7 237.5 260.5 217.6 261.1 203.8C261.6 190.0 261.7 172.8 262.8 161.4C264.0 150.1 266.4 141.1 267.8 135.7C269.2 130.3 270.1 132.6 271.2 129.1C272.3 125.6 273.5 118.8 274.4 114.6C275.2 110.5 275.9 105.9 276.2 104.1 M276.2 105.5C277.0 100.5 279.1 83.4 280.5 75.7C282.0 68.0 283.2 63.5 284.8 59.5C286.5 55.4 289.6 52.7 290.5 51.4C290.3 58.1 289.6 78.1 289.1 91.9C288.6 105.8 288.6 123.2 287.6 134.4C286.7 145.7 284.6 154.2 283.4 159.3C282.2 164.5 281.5 162.2 280.5 165.4C279.6 168.7 278.5 175.0 277.8 178.9C277.1 182.7 277.2 182.2 276.2 188.6C275.3 195.0 273.4 209.7 272.0 217.1C270.5 224.4 269.3 228.7 267.7 232.6C266.0 236.5 262.9 239.1 262.0 240.4C262.2 233.9 262.9 214.8 263.4 201.5C263.9 188.3 263.9 171.8 264.9 160.9C265.8 150.0 267.9 141.3 269.1 136.1C270.3 130.8 271.0 133.1 272.0 129.7C272.9 126.3 274.0 119.7 274.7 115.7C275.4 111.6 276.0 107.2 276.2 105.5 M276.2 108.3C276.9 103.3 278.7 86.0 280.0 78.3C281.2 70.5 282.2 65.9 283.7 61.8C285.1 57.7 287.8 55.0 288.6 53.6C288.4 60.2 287.8 79.7 287.4 93.2C286.9 106.8 286.9 123.9 286.1 134.7C285.2 145.6 283.4 153.6 282.4 158.5C281.4 163.4 280.8 161.1 280.0 164.1C279.1 167.1 278.2 172.9 277.6 176.5C277.0 180.0 277.1 179.2 276.2 185.5C275.4 191.7 273.8 206.7 272.5 214.0C271.3 221.4 270.3 225.7 268.8 229.6C267.4 233.5 264.7 236.0 263.9 237.3C264.1 231.1 264.7 212.6 265.1 199.8C265.6 187.0 265.6 171.0 266.4 160.5C267.3 150.0 269.1 141.8 270.1 136.9C271.1 131.9 271.7 134.1 272.5 130.9C273.4 127.7 274.3 121.6 274.9 117.8C275.5 114.1 276.0 109.9 276.2 108.3 M276.2 116.1C276.8 110.9 278.3 92.9 279.4 84.9C280.4 76.9 281.3 72.1 282.5 67.9C283.7 63.6 285.9 60.8 286.6 59.4C286.5 65.6 286.0 83.9 285.6 96.6C285.2 109.3 285.2 125.5 284.5 135.5C283.8 145.6 282.3 152.4 281.4 156.7C280.6 161.0 280.0 158.8 279.4 161.3C278.7 163.8 277.9 168.6 277.4 171.6C276.9 174.5 277.0 172.7 276.2 179.0C275.5 185.4 274.2 201.6 273.1 209.4C272.1 217.3 271.2 221.9 270.0 226.0C268.8 230.2 266.6 232.9 265.9 234.3C266.0 228.3 266.5 210.4 266.9 198.0C267.3 185.7 267.3 169.9 268.0 160.0C268.7 150.2 270.2 143.3 271.1 139.0C271.9 134.7 272.5 136.8 273.1 134.2C273.8 131.7 274.6 126.7 275.1 123.7C275.6 120.7 276.1 117.3 276.2 116.1 M276.2 121.7C276.7 116.4 278.0 98.1 278.9 90.0C279.8 81.8 280.5 77.0 281.5 72.6C282.6 68.3 284.5 65.4 285.1 64.0C284.9 69.8 284.5 87.2 284.2 99.2C283.9 111.3 283.9 126.9 283.3 136.2C282.7 145.5 281.4 151.3 280.7 155.1C279.9 159.0 279.5 156.9 278.9 159.0C278.3 161.1 277.7 165.0 277.2 167.5C276.8 169.9 276.9 167.4 276.2 173.7C275.6 179.9 274.5 196.8 273.6 204.8C272.7 212.9 272.0 217.6 271.0 221.8C269.9 226.1 268.0 228.9 267.4 230.3C267.6 224.6 268.0 207.5 268.3 195.7C268.6 183.9 268.6 168.7 269.2 159.5C269.8 150.3 271.1 144.4 271.8 140.6C272.6 136.8 273.0 138.8 273.6 136.7C274.2 134.6 274.8 130.5 275.3 128.0C275.7 125.5 276.1 122.8 276.2 121.7 M276.2 128.5C276.6 123.3 277.7 105.4 278.4 97.4C279.2 89.4 279.8 84.7 280.6 80.5C281.5 76.2 283.0 73.4 283.5 72.0C283.4 77.3 283.0 93.0 282.8 103.9C282.5 114.8 282.5 129.1 282.0 137.3C281.5 145.6 280.5 150.2 279.9 153.4C279.3 156.6 278.9 154.8 278.4 156.3C278.0 157.9 277.4 160.9 277.0 162.8C276.7 164.6 276.7 161.5 276.2 167.5C275.8 173.4 274.8 190.6 274.1 198.7C273.3 206.7 272.7 211.4 271.9 215.7C271.0 219.9 269.5 222.8 269.0 224.2C269.1 218.8 269.5 203.1 269.7 192.2C270.0 181.2 270.0 166.9 270.5 158.6C271.0 150.3 272.0 145.7 272.6 142.5C273.2 139.3 273.6 141.1 274.1 139.6C274.5 138.0 275.1 135.0 275.5 133.2C275.8 131.3 276.1 129.3 276.2 128.5 M276.2 134.6C276.5 129.5 277.4 112.1 278.0 104.4C278.6 96.6 279.1 92.0 279.8 87.9C280.5 83.8 281.8 81.0 282.2 79.6C282.1 84.4 281.8 98.5 281.6 108.3C281.4 118.1 281.4 131.1 281.0 138.4C280.6 145.6 279.7 149.3 279.2 151.9C278.7 154.4 278.4 152.8 278.0 153.9C277.7 155.1 277.2 157.2 276.9 158.5C276.6 159.9 276.7 156.1 276.2 161.9C275.8 167.7 275.1 185.2 274.5 193.3C273.9 201.4 273.4 206.2 272.7 210.5C272.0 214.7 270.7 217.6 270.3 219.0C270.4 214.1 270.7 199.4 270.9 189.2C271.1 179.0 271.1 165.4 271.5 157.9C271.9 150.4 272.8 146.8 273.3 144.2C273.8 141.6 274.1 143.3 274.5 142.2C274.8 141.1 275.3 139.0 275.6 137.8C275.9 136.5 276.1 135.1 276.2 134.6 M276.2 140.2C276.5 135.6 277.2 119.9 277.7 112.9C278.1 105.9 278.5 101.7 279.1 98.0C279.6 94.3 280.6 91.8 280.9 90.6C280.8 94.6 280.6 106.5 280.5 114.7C280.3 122.9 280.3 134.0 280.0 139.9C279.7 145.9 279.0 148.5 278.6 150.5C278.2 152.4 278.0 151.1 277.7 151.8C277.3 152.5 277.0 153.9 276.8 154.8C276.5 155.6 276.6 151.3 276.2 156.9C275.9 162.5 275.3 180.2 274.8 188.3C274.4 196.3 274.0 201.1 273.4 205.3C272.9 209.6 271.9 212.5 271.6 213.9C271.7 209.3 271.9 195.6 272.0 186.2C272.2 176.7 272.2 163.9 272.5 157.2C272.8 150.4 273.5 147.9 273.9 145.8C274.3 143.7 274.5 145.2 274.8 144.6C275.2 144.0 275.5 142.8 275.7 142.0C276.0 141.3 276.2 140.5 276.2 140.2 M276.2 144.1C276.4 140.5 277.0 128.1 277.3 122.6C277.7 117.0 277.9 113.7 278.4 110.8C278.8 107.9 279.5 105.9 279.8 104.9C279.7 107.9 279.5 116.8 279.4 123.0C279.3 129.2 279.3 137.5 279.0 141.9C278.8 146.3 278.3 148.0 278.0 149.3C277.7 150.7 277.5 149.7 277.3 150.1C277.1 150.4 276.8 151.2 276.6 151.7C276.5 152.1 276.5 148.1 276.2 152.8C276.0 157.6 275.5 173.0 275.2 180.0C274.8 187.0 274.6 191.1 274.1 194.8C273.7 198.6 273.0 201.0 272.7 202.3C272.8 198.5 273.0 187.2 273.1 179.5C273.2 171.7 273.2 161.0 273.5 155.6C273.7 150.1 274.2 148.4 274.5 146.9C274.8 145.3 275.0 146.6 275.2 146.3C275.4 146.0 275.7 145.4 275.9 145.0C276.0 144.6 276.2 144.2 276.2 144.1 M276.2 146.2C276.4 143.8 276.7 135.2 277.0 131.4C277.2 127.6 277.4 125.3 277.7 123.3C277.9 121.3 278.4 119.9 278.6 119.3C278.5 121.3 278.4 127.2 278.4 131.3C278.3 135.4 278.3 141.0 278.1 143.9C278.0 146.8 277.6 147.8 277.4 148.7C277.2 149.5 277.1 148.8 277.0 149.0C276.8 149.2 276.6 149.6 276.5 149.9C276.4 150.1 276.4 146.8 276.2 150.5C276.1 154.2 275.8 166.5 275.5 172.1C275.3 177.6 275.1 180.9 274.8 183.9C274.6 186.8 274.1 188.8 273.9 189.8C274.0 186.8 274.1 178.2 274.1 172.2C274.2 166.2 274.2 157.9 274.4 153.8C274.5 149.7 274.9 148.6 275.1 147.5C275.3 146.4 275.4 147.3 275.5 147.2C275.7 147.1 275.9 146.8 276.0 146.6C276.1 146.5 276.2 146.3 276.2 146.2 M276.2 147.4C276.3 146.0 276.5 141.1 276.6 138.9C276.8 136.8 276.9 135.5 277.0 134.3C277.2 133.2 277.5 132.4 277.5 132.0C277.5 133.1 277.5 136.4 277.4 138.7C277.4 141.0 277.4 144.1 277.3 145.7C277.2 147.3 277.0 147.8 276.9 148.2C276.8 148.6 276.7 148.3 276.6 148.3C276.6 148.4 276.5 148.6 276.4 148.7C276.3 148.7 276.3 146.4 276.2 148.9C276.2 151.4 276.0 159.9 275.9 163.7C275.7 167.5 275.6 169.8 275.5 171.8C275.3 173.8 275.0 175.2 275.0 175.8C275.0 173.9 275.0 168.1 275.1 164.1C275.1 160.1 275.1 154.6 275.2 151.9C275.3 149.1 275.5 148.5 275.6 147.8C275.7 147.1 275.8 147.8 275.9 147.7C275.9 147.7 276.0 147.6 276.1 147.5C276.2 147.5 276.2 147.4 276.2 147.4 M276.2 132.5C280.2 131.9 292.4 130.4 299.7 129.0C307.0 127.6 313.4 128.0 319.8 124.1C326.2 120.2 332.9 112.3 338.2 105.4C343.5 98.6 348.0 89.8 351.6 82.8C355.2 75.8 357.2 66.2 360.0 63.3C362.8 60.4 365.5 64.9 368.2 65.6C371.0 66.3 375.1 67.1 376.5 67.4C376.5 68.7 377.5 71.7 376.9 75.4C376.3 79.1 374.4 84.7 372.9 89.4C371.4 94.1 369.4 99.0 367.6 103.6C365.8 108.2 363.9 112.7 362.0 116.9C360.1 121.0 358.2 125.1 356.4 128.7C354.5 132.3 352.6 135.9 351.1 138.6C349.5 141.3 348.3 143.3 347.1 145.1C345.9 146.8 348.6 148.2 343.8 149.2C339.0 150.3 326.0 150.0 318.1 151.3C310.2 152.5 302.1 155.2 296.5 156.7C290.9 158.2 287.7 159.2 284.4 160.4C281.0 161.6 277.6 163.4 276.2 164.0 M276.2 131.0C279.7 130.5 290.4 129.3 296.8 127.9C303.1 126.5 308.8 126.5 314.4 122.7C320.0 119.0 325.9 113.0 330.5 105.2C335.2 97.5 339.1 84.1 342.3 76.4C345.4 68.7 347.6 61.8 349.6 59.1C351.7 56.5 352.9 60.0 354.6 60.3C356.3 60.6 358.8 60.8 359.6 61.0C359.7 62.4 360.5 65.7 360.0 69.7C359.5 73.6 358.0 79.6 356.7 84.7C355.4 89.8 353.8 95.1 352.3 100.1C350.8 105.0 349.2 109.8 347.6 114.3C346.1 118.8 344.5 123.2 342.9 127.1C341.4 131.0 339.8 134.8 338.5 137.8C337.3 140.7 336.2 142.8 335.2 144.7C334.2 146.7 336.5 148.0 332.5 149.2C328.5 150.5 317.7 151.0 311.1 152.4C304.6 153.7 297.8 155.9 293.1 157.5C288.4 159.2 285.8 160.9 283.0 162.3C280.2 163.7 277.4 165.1 276.2 165.7 M276.2 130.0C279.2 129.6 288.7 128.9 294.2 127.4C299.8 125.8 304.7 125.2 309.7 120.6C314.6 116.1 319.7 107.5 323.8 100.0C327.9 92.5 331.3 83.0 334.1 75.5C336.9 68.1 338.7 58.5 340.5 55.3C342.3 52.1 343.4 56.0 344.9 56.2C346.3 56.4 348.5 56.6 349.2 56.7C349.3 58.2 350.0 61.7 349.6 65.8C349.2 70.0 347.8 76.3 346.7 81.6C345.6 86.9 344.2 92.5 342.9 97.7C341.5 102.9 340.1 107.9 338.8 112.7C337.4 117.4 336.0 121.9 334.7 126.0C333.4 130.1 331.9 134.1 330.8 137.2C329.7 140.3 328.8 142.5 327.9 144.5C327.1 146.5 329.0 148.0 325.5 149.2C322.0 150.4 312.6 150.3 306.8 151.8C301.1 153.3 295.1 156.4 291.0 158.3C286.9 160.1 284.6 161.4 282.2 162.8C279.7 164.3 277.2 166.1 276.2 166.8 M276.2 129.1C278.9 128.6 287.2 127.7 292.1 126.2C297.0 124.8 301.3 124.7 305.6 120.6C309.9 116.4 314.5 109.2 318.0 101.5C321.6 93.7 324.6 82.0 327.1 74.0C329.5 66.0 330.6 56.9 332.7 53.3C334.9 49.8 338.9 52.9 340.1 52.8C340.2 54.3 340.9 57.9 340.5 62.3C340.2 66.6 339.0 73.2 338.0 78.7C337.0 84.2 335.8 90.1 334.6 95.5C333.5 100.9 332.2 106.2 331.0 111.1C329.8 116.0 328.6 120.8 327.4 125.0C326.3 129.3 325.1 133.5 324.1 136.7C323.1 139.9 322.3 142.2 321.5 144.3C320.8 146.4 322.5 148.0 319.4 149.2C316.4 150.4 308.1 150.1 303.0 151.6C298.0 153.1 292.8 156.4 289.2 158.4C285.6 160.5 283.6 162.4 281.4 163.9C279.3 165.5 277.1 167.0 276.2 167.6 M276.2 128.6C278.6 128.0 285.9 126.5 290.2 124.8C294.6 123.2 298.4 122.8 302.2 118.6C306.1 114.4 310.1 107.3 313.2 99.7C316.4 92.1 319.1 81.2 321.2 73.2C323.4 65.3 324.4 55.8 326.2 52.1C328.1 48.4 331.3 51.1 332.3 50.8C332.4 52.5 333.0 56.1 332.7 60.5C332.4 65.0 331.4 71.7 330.5 77.3C329.6 83.0 328.6 88.9 327.5 94.4C326.5 99.9 325.4 105.3 324.4 110.3C323.3 115.4 322.3 120.2 321.3 124.6C320.2 128.9 319.2 133.2 318.3 136.5C317.4 139.7 316.7 142.1 316.1 144.2C315.4 146.4 316.9 147.8 314.2 149.2C311.5 150.6 304.2 151.0 299.8 152.6C295.4 154.3 290.8 157.2 287.6 159.1C284.5 161.0 282.7 162.5 280.8 164.0C278.9 165.4 277.0 167.2 276.2 167.8 M276.2 164.0C274.8 167.8 270.6 181.2 267.4 186.8C264.3 192.4 260.4 194.5 257.4 197.6C254.5 200.8 252.5 203.3 249.6 205.8C246.6 208.3 242.9 210.8 239.6 212.7C236.4 214.5 233.1 214.8 230.1 216.8C227.2 218.8 225.2 222.7 222.1 224.7C218.9 226.6 214.7 226.5 211.3 228.4C208.0 230.4 205.1 234.8 202.2 236.5C199.2 238.1 195.9 238.2 193.5 238.2C191.2 238.3 189.7 237.7 187.8 236.7C185.9 235.7 184.0 233.1 182.0 232.2C180.1 231.3 177.2 231.6 176.3 231.5 M276.2 163.1C274.7 167.2 270.0 181.2 267.0 187.4C264.0 193.7 261.2 197.7 258.1 200.7C254.9 203.8 250.9 204.4 248.0 205.9C245.0 207.5 243.4 208.3 240.4 210.1C237.4 211.9 233.2 214.7 230.1 216.7C226.9 218.7 224.7 220.2 221.7 222.0C218.7 223.7 215.1 226.3 212.1 227.3C209.2 228.3 206.8 226.7 203.9 228.0C201.1 229.2 197.3 234.2 194.8 234.8C192.4 235.3 191.1 232.6 189.2 231.3C187.3 230.0 185.4 227.8 183.5 227.0C181.6 226.2 178.8 226.7 177.8 226.7 M276.2 165.7C275.1 169.8 271.9 184.9 269.1 190.3C266.3 195.7 262.1 194.9 259.4 198.0C256.7 201.0 255.7 205.8 252.9 208.4C250.2 211.1 245.9 211.9 243.1 213.9C240.2 215.9 238.1 218.3 235.6 220.5C233.1 222.6 230.8 224.8 228.0 226.8C225.2 228.8 221.9 230.4 219.0 232.5C216.2 234.6 213.7 237.5 211.1 239.3C208.5 241.0 205.6 243.0 203.5 243.0C201.5 243.1 200.2 240.4 198.5 239.8C196.9 239.1 194.4 239.2 193.5 239.1 M276.2 164.7C274.8 169.5 270.3 187.3 267.6 193.5C264.9 199.7 262.7 199.0 260.1 202.0C257.6 204.9 254.9 209.3 252.2 211.4C249.5 213.5 246.4 212.6 243.9 214.6C241.5 216.6 240.0 221.8 237.5 223.4C235.0 225.1 231.8 223.7 228.8 224.6C225.8 225.5 222.4 227.0 219.6 228.6C216.8 230.1 214.3 232.3 211.9 233.9C209.4 235.4 206.8 237.8 204.8 238.0C202.9 238.3 201.6 236.0 200.0 235.3C198.3 234.6 195.9 234.1 195.1 233.9 M276.2 166.8C275.0 170.8 271.1 185.2 268.7 191.1C266.4 197.0 264.4 198.9 262.1 202.2C259.9 205.5 257.6 207.9 255.1 210.9C252.7 213.9 250.0 217.9 247.6 220.2C245.2 222.6 243.2 223.4 240.8 225.0C238.3 226.6 235.2 227.9 232.9 229.9C230.6 231.9 229.2 234.9 226.8 236.9C224.4 239.0 221.0 240.4 218.5 242.2C216.0 244.0 214.5 247.7 212.0 248.0C209.5 248.2 204.9 244.5 203.5 243.8 M276.2 165.7C274.9 170.4 270.9 187.6 268.4 194.0C265.9 200.4 263.5 200.9 261.3 204.2C259.1 207.5 257.4 211.2 255.3 213.9C253.2 216.5 250.8 218.6 248.6 220.0C246.3 221.3 244.2 220.2 241.8 222.0C239.4 223.7 236.7 228.7 234.3 230.6C231.9 232.5 229.4 232.0 227.3 233.4C225.1 234.8 223.7 237.7 221.3 238.8C219.0 239.9 216.0 240.0 213.3 239.9C210.6 239.8 206.5 238.5 205.1 238.3 M276.2 167.6C275.4 171.4 272.9 184.5 270.9 190.6C269.0 196.6 266.4 200.5 264.3 204.0C262.2 207.5 260.4 209.3 258.4 211.5C256.3 213.7 254.4 215.0 252.0 217.2C249.7 219.3 246.3 221.7 244.2 224.4C242.1 227.2 241.5 231.6 239.4 233.6C237.4 235.6 234.4 235.1 232.0 236.4C229.7 237.6 227.4 239.1 225.4 241.1C223.3 243.1 222.0 247.3 219.8 248.3C217.5 249.3 213.3 247.3 212.0 247.1 M276.2 166.4C275.4 171.3 272.9 190.1 270.9 196.1C268.8 202.1 266.3 199.5 264.0 202.4C261.7 205.3 259.2 210.6 257.2 213.4C255.1 216.2 253.9 217.4 251.7 219.4C249.6 221.5 246.7 224.4 244.5 225.6C242.3 226.9 240.5 225.8 238.7 226.7C236.9 227.7 235.8 229.9 233.8 231.4C231.7 233.0 228.5 234.3 226.4 236.2C224.3 238.0 223.2 241.7 221.1 242.5C218.9 243.2 214.8 241.1 213.5 240.8 M276.2 167.8C275.3 171.7 272.7 185.6 270.8 191.2C268.9 196.7 266.7 197.9 264.9 201.3C263.0 204.6 261.4 208.0 259.7 211.2C258.0 214.5 256.5 218.4 254.8 220.8C253.1 223.1 251.4 223.6 249.4 225.2C247.4 226.9 244.8 228.9 242.7 230.6C240.6 232.3 238.7 233.3 236.9 235.5C235.1 237.6 233.7 241.5 232.0 243.5C230.2 245.4 228.3 246.6 226.3 247.3C224.2 248.1 220.9 247.7 219.8 247.8 M276.2 169.0C275.4 173.1 272.8 187.8 271.2 193.8C269.7 199.9 268.4 202.1 266.9 205.3C265.4 208.5 263.8 211.0 262.2 213.0C260.5 215.0 258.6 215.2 256.9 217.2C255.2 219.3 253.6 222.4 251.9 225.2C250.2 228.0 248.3 231.7 246.5 234.0C244.6 236.3 242.5 237.4 241.0 238.9C239.5 240.4 238.7 241.5 237.2 242.9C235.8 244.4 233.9 246.7 232.1 247.5C230.3 248.4 227.2 247.8 226.3 247.9 M276.2 172.1C275.7 176.0 274.2 190.6 272.7 195.9C271.2 201.2 268.8 200.8 267.1 204.0C265.3 207.2 263.7 212.0 262.3 214.9C260.9 217.8 260.0 219.4 258.7 221.5C257.3 223.5 255.7 225.6 254.3 227.2C253.0 228.9 251.9 229.8 250.4 231.3C249.0 232.9 246.9 234.5 245.4 236.5C243.9 238.5 242.9 242.0 241.6 243.5C240.2 245.0 238.9 245.0 237.3 245.7C235.7 246.4 233.0 247.3 232.1 247.6 M276.2 174.6C275.5 178.3 273.4 192.1 272.0 197.1C270.6 202.1 269.0 202.3 268.0 204.8C266.9 207.2 266.9 209.2 265.7 211.8C264.6 214.5 262.6 218.4 261.1 220.6C259.5 222.8 257.7 223.1 256.5 224.9C255.3 226.7 254.9 229.6 253.9 231.5C252.8 233.4 251.4 234.8 250.3 236.1C249.1 237.4 248.4 238.0 247.1 239.5C245.8 241.1 244.1 244.3 242.5 245.5C240.9 246.6 238.2 246.4 237.3 246.6"/>
<path class="b" style="stroke-width:2.4" d="M281.7 164V179.8"/>
<clipPath id="ov"><path d="M130 120H258L240 270H130ZM292 158L312 30H410V158Z"/></clipPath>
<path class="b" clip-path="url(#ov)" style="stroke-width:2.6;stroke-dasharray:7 15;stroke-linecap:butt" d="M276.2 129.8C279.5 129.3 289.6 128.4 295.5 126.9C301.5 125.4 306.8 125.3 312.0 121.0C317.3 116.8 322.8 109.3 327.2 101.4C331.5 93.5 335.2 81.3 338.2 73.7C341.2 66.0 343.0 58.5 345.1 55.5C347.1 52.5 348.5 55.5 350.3 55.5C352.0 55.4 354.6 55.0 355.4 55.0C355.5 56.5 356.3 60.0 355.8 64.3C355.4 68.5 353.9 74.9 352.7 80.3C351.5 85.7 350.0 91.5 348.5 96.7C347.1 102.0 345.6 107.2 344.1 112.0C342.6 116.8 341.1 121.4 339.6 125.6C338.2 129.8 336.7 133.9 335.5 137.0C334.2 140.1 333.3 142.4 332.3 144.4C331.4 146.5 333.5 148.0 329.7 149.2C325.9 150.5 315.6 150.5 309.4 152.1C303.2 153.6 296.7 156.7 292.3 158.7C287.8 160.6 285.3 162.3 282.7 163.9C280.0 165.4 278.7 165.0 276.2 168.1C273.8 171.3 271.6 177.3 268.2 182.8C264.9 188.4 260.4 196.2 256.2 201.3C252.0 206.4 247.5 208.8 242.8 213.4C238.1 218.1 232.6 224.7 228.1 229.3C223.7 233.8 219.2 237.6 216.1 240.8C213.0 244.0 211.2 247.0 209.4 248.5C207.6 250.1 206.6 249.5 205.2 249.9C203.8 250.3 201.6 250.7 200.9 250.9C200.9 245.1 200.9 222.2 200.9 216.4C201.1 215.1 201.3 210.9 201.7 208.7C202.1 206.4 202.6 205.1 203.3 203.0C204.1 200.8 205.0 198.2 206.0 196.0C207.0 193.7 208.1 191.7 209.3 189.4C210.6 187.0 211.8 184.3 213.5 181.7C215.2 179.0 217.3 176.3 219.5 173.4C221.7 170.6 223.9 167.9 226.6 164.8C229.4 161.7 232.4 158.4 235.9 155.0C239.4 151.6 243.4 147.7 247.5 144.4C251.7 141.2 257.4 137.3 260.7 135.6C263.9 133.8 265.0 134.5 266.9 133.9C268.8 133.3 271.0 132.5 272.4 132.0C273.7 131.4 274.4 131.1 275.0 130.7C275.7 130.4 276.0 129.9 276.2 129.8 M276.2 129.2C279.1 128.8 288.0 128.2 293.3 126.8C298.6 125.3 303.3 124.6 308.0 120.4C312.7 116.3 317.5 109.9 321.4 101.9C325.3 94.0 328.5 80.7 331.2 72.7C333.8 64.8 335.0 57.4 337.3 54.2C339.6 50.9 343.8 53.3 345.1 53.1C345.1 54.7 345.8 58.3 345.5 62.6C345.1 66.9 343.8 73.5 342.7 79.0C341.7 84.5 340.3 90.3 339.1 95.7C337.8 101.1 336.5 106.3 335.2 111.2C333.9 116.2 332.6 120.9 331.4 125.1C330.1 129.4 328.8 133.6 327.7 136.8C326.7 140.0 325.8 142.3 325.0 144.3C324.2 146.4 326.1 147.9 322.7 149.2C319.4 150.5 310.5 150.5 305.1 152.2C299.7 153.8 294.1 157.1 290.2 159.2C286.3 161.2 284.2 162.9 281.8 164.5C279.5 166.0 278.4 165.1 276.2 168.4C274.1 171.8 272.1 179.1 269.1 184.4C266.1 189.7 262.1 195.0 258.3 200.4C254.6 205.8 250.6 211.9 246.4 216.7C242.2 221.5 237.2 225.4 233.2 229.4C229.3 233.3 225.3 237.4 222.5 240.6C219.7 243.9 218.7 247.0 216.5 248.9C214.3 250.7 210.6 251.2 209.4 251.6C209.4 245.9 209.4 222.7 209.4 217.0C209.5 215.7 209.7 211.7 210.1 209.4C210.5 207.1 211.0 205.5 211.8 203.3C212.5 201.2 213.5 198.8 214.5 196.6C215.5 194.3 216.5 192.1 217.7 189.7C219.0 187.3 220.2 184.9 221.9 182.2C223.6 179.5 225.7 176.5 227.9 173.5C230.1 170.5 232.3 167.4 235.1 164.2C237.8 161.0 240.8 157.8 244.3 154.2C247.8 150.6 251.8 146.4 256.0 142.7C260.1 139.0 266.4 134.0 269.1 132.1C271.8 130.1 271.1 131.4 272.0 131.1C272.9 130.9 273.8 130.8 274.5 130.5C275.1 130.2 275.4 129.7 275.7 129.5C276.0 129.2 276.2 129.3 276.2 129.2 M276.2 128.9C278.9 128.5 287.0 128.0 291.9 126.4C296.7 124.9 301.0 124.3 305.3 119.8C309.6 115.2 314.0 106.9 317.6 98.9C321.1 91.0 324.1 79.6 326.5 72.0C328.9 64.4 330.3 56.7 332.1 53.3C333.9 50.0 336.4 52.0 337.3 51.8C337.3 53.4 338.0 57.0 337.7 61.4C337.3 65.7 336.2 72.4 335.2 78.0C334.3 83.6 333.1 89.5 332.0 94.9C330.9 100.4 329.7 105.7 328.6 110.7C327.5 115.7 326.3 120.5 325.2 124.8C324.1 129.1 322.9 133.3 322.0 136.6C321.0 139.8 320.3 142.2 319.5 144.3C318.8 146.4 320.5 147.9 317.5 149.2C314.6 150.5 306.7 150.5 301.8 152.1C297.0 153.8 292.1 157.1 288.6 159.2C285.2 161.2 283.3 162.9 281.2 164.5C279.1 166.1 278.2 165.2 276.2 168.6C274.3 172.1 272.5 180.2 269.8 185.3C267.1 190.4 263.5 194.1 260.1 199.1C256.7 204.1 253.1 210.3 249.3 215.4C245.5 220.5 241.0 225.2 237.5 229.9C233.9 234.6 230.3 240.2 227.8 243.5C225.2 246.7 224.2 247.7 222.4 249.2C220.5 250.6 217.5 251.5 216.5 252.0C216.5 246.2 216.5 223.0 216.5 217.2C216.6 216.0 216.8 212.1 217.2 209.8C217.6 207.5 218.1 205.5 218.8 203.3C219.5 201.0 220.5 198.4 221.5 196.1C222.4 193.7 223.4 191.6 224.6 189.3C225.8 186.9 227.1 184.6 228.7 182.0C230.3 179.3 232.4 176.2 234.5 173.2C236.6 170.2 238.8 167.3 241.4 164.0C244.1 160.7 247.0 157.1 250.4 153.3C253.8 149.4 257.7 144.5 261.7 140.7C265.7 136.8 272.0 131.9 274.5 129.9C276.9 127.9 276.0 129.0 276.2 128.9 M276.2 128.6C278.6 128.2 285.9 127.6 290.2 126.2C294.6 124.7 298.4 124.4 302.2 120.1C306.1 115.8 310.1 108.1 313.2 100.3C316.4 92.4 319.1 80.9 321.2 73.0C323.4 65.1 324.4 56.3 326.2 52.6C328.0 48.9 331.1 51.2 332.1 50.9C332.1 52.5 332.8 56.2 332.5 60.6C332.2 65.0 331.1 71.7 330.3 77.4C329.4 83.0 328.3 89.0 327.3 94.5C326.3 100.0 325.2 105.4 324.2 110.4C323.1 115.4 322.1 120.2 321.0 124.6C320.0 128.9 319.0 133.2 318.1 136.5C317.2 139.7 316.6 142.1 315.9 144.2C315.2 146.4 316.7 147.9 314.0 149.2C311.3 150.5 304.1 150.6 299.7 152.2C295.3 153.7 290.7 156.5 287.6 158.5C284.4 160.6 282.7 162.8 280.8 164.5C278.9 166.2 278.0 165.8 276.2 168.8C274.5 171.8 272.9 177.7 270.5 182.7C268.1 187.7 264.9 193.5 261.8 198.8C258.8 204.1 255.6 209.0 252.2 214.6C248.9 220.2 244.9 227.4 241.7 232.4C238.5 237.5 235.3 242.0 233.0 245.0C230.8 248.0 230.0 249.2 228.2 250.4C226.4 251.6 223.3 252.0 222.4 252.3C222.4 246.5 222.4 223.2 222.4 217.4C222.5 216.2 222.6 212.2 223.0 209.9C223.3 207.7 223.8 206.1 224.5 203.9C225.1 201.7 225.9 199.2 226.8 196.8C227.7 194.4 228.6 192.0 229.7 189.6C230.8 187.1 231.9 184.7 233.3 182.0C234.8 179.3 236.7 176.2 238.6 173.2C240.5 170.2 242.4 167.5 244.8 164.1C247.2 160.6 249.9 156.7 252.9 152.7C256.0 148.7 259.5 144.0 263.1 140.2C266.8 136.4 272.4 131.8 274.6 129.8C276.8 127.9 276.0 128.8 276.2 128.6 M276.2 127.4C278.3 126.4 284.8 124.0 288.6 121.8C292.4 119.6 295.8 118.6 299.2 114.1C302.6 109.7 306.1 102.3 308.9 94.8C311.7 87.4 314.1 76.7 316.0 69.5C317.9 62.4 318.7 55.1 320.4 51.9C322.1 48.7 325.3 50.5 326.2 50.2C326.3 51.8 326.9 55.5 326.6 60.0C326.4 64.4 325.4 71.1 324.6 76.8C323.9 82.5 322.9 88.5 322.0 94.1C321.1 99.6 320.1 105.0 319.2 110.1C318.3 115.1 317.3 120.0 316.4 124.4C315.5 128.8 314.5 133.1 313.8 136.4C313.0 139.7 312.4 142.1 311.8 144.2C311.2 146.3 312.6 147.8 310.1 149.2C307.7 150.7 301.2 150.9 297.3 152.8C293.3 154.7 289.2 158.4 286.4 160.6C283.6 162.8 282.0 164.4 280.3 166.1C278.6 167.9 277.8 167.6 276.2 171.3C274.7 175.0 273.3 182.9 271.2 188.1C269.1 193.3 266.3 197.7 263.6 202.5C260.9 207.3 258.1 211.8 255.2 217.1C252.2 222.4 248.7 229.6 245.9 234.4C243.1 239.2 240.2 243.0 238.3 245.9C236.3 248.8 235.7 250.4 234.1 251.7C232.4 252.9 229.2 253.2 228.2 253.5C228.2 247.7 228.2 224.1 228.2 218.2C228.3 216.9 228.5 212.5 228.8 210.1C229.1 207.8 229.5 206.3 230.1 204.2C230.6 202.0 231.4 199.7 232.2 197.4C232.9 195.1 233.8 192.9 234.7 190.5C235.7 188.1 236.7 185.8 238.0 183.0C239.3 180.2 240.9 176.7 242.7 173.5C244.4 170.3 246.1 167.2 248.2 163.8C250.4 160.3 252.8 156.8 255.5 152.7C258.2 148.7 261.3 143.5 264.6 139.4C267.8 135.2 272.9 130.0 274.8 128.0C276.8 126.0 276.0 127.5 276.2 127.4 M276.2 124.1C278.0 122.0 283.5 115.5 286.8 111.6C290.1 107.8 292.9 105.9 295.8 101.2C298.7 96.6 301.7 89.8 304.1 83.7C306.5 77.7 308.5 70.7 310.1 65.2C311.8 59.6 312.2 53.1 313.9 50.5C315.6 47.9 319.3 49.6 320.4 49.5C320.5 51.1 321.0 54.8 320.8 59.3C320.6 63.8 319.7 70.6 319.0 76.3C318.4 82.0 317.5 88.1 316.7 93.7C315.9 99.2 315.1 104.7 314.2 109.8C313.4 114.9 312.6 119.8 311.8 124.2C310.9 128.6 310.1 133.0 309.4 136.3C308.7 139.6 308.2 142.0 307.7 144.2C307.1 146.3 308.4 147.6 306.2 149.2C304.1 150.8 298.3 151.8 294.8 153.8C291.3 155.9 287.7 159.1 285.2 161.6C282.7 164.2 281.3 166.9 279.8 169.1C278.3 171.4 277.6 170.9 276.2 174.9C274.9 178.9 273.7 187.7 271.9 193.2C270.1 198.6 267.6 202.4 265.3 207.4C263.0 212.5 260.6 218.9 258.1 223.5C255.5 228.2 252.5 231.8 250.1 235.5C247.7 239.2 245.2 243.0 243.5 245.8C241.8 248.6 241.5 250.9 239.9 252.4C238.3 253.9 235.0 254.4 234.1 254.9C234.1 248.9 234.1 225.1 234.1 219.1C234.1 217.8 234.3 213.8 234.5 211.5C234.8 209.2 235.2 207.5 235.7 205.2C236.2 203.0 236.9 200.3 237.5 198.0C238.2 195.6 238.9 193.4 239.8 190.9C240.6 188.5 241.5 185.9 242.6 183.1C243.8 180.3 245.2 177.4 246.7 174.2C248.2 171.0 249.8 167.5 251.7 163.8C253.5 160.0 255.6 156.1 258.0 151.7C260.4 147.3 263.1 141.8 266.0 137.4C268.8 133.0 273.3 127.6 275.0 125.4C276.7 123.2 276.0 124.3 276.2 124.1 M276.2 119.6C277.7 116.4 282.3 105.9 285.0 100.2C287.7 94.6 290.1 90.7 292.5 85.6C294.8 80.5 297.3 74.4 299.3 69.6C301.3 64.9 302.9 61.0 304.3 57.4C305.6 53.8 305.8 49.8 307.4 48.2C309.0 46.7 312.8 48.0 313.9 48.0C314.0 49.7 314.5 53.4 314.3 58.0C314.1 62.5 313.4 69.4 312.8 75.2C312.2 81.0 311.5 87.1 310.9 92.8C310.2 98.5 309.5 104.0 308.8 109.2C308.1 114.3 307.3 119.3 306.7 123.8C306.0 128.3 305.3 132.6 304.7 136.0C304.1 139.4 303.7 141.8 303.2 144.0C302.8 146.2 303.8 147.5 302.0 149.1C300.2 150.7 295.2 151.1 292.2 153.6C289.2 156.2 286.1 161.3 284.0 164.6C281.8 167.8 280.6 170.6 279.3 173.2C278.1 175.7 277.4 175.5 276.2 180.0C275.1 184.5 274.1 194.1 272.5 200.3C271.0 206.4 268.9 212.4 266.9 217.0C264.9 221.6 262.9 224.0 260.7 228.0C258.5 231.9 255.9 236.9 253.8 240.6C251.7 244.2 249.7 247.8 248.2 249.7C246.8 251.6 246.5 251.2 245.1 252.2C243.7 253.2 240.8 255.1 239.9 255.6C239.9 251.1 239.9 233.1 239.9 228.6C240.0 227.1 240.1 222.1 240.3 219.6C240.6 217.0 240.9 215.6 241.3 213.1C241.7 210.6 242.3 207.5 242.9 204.8C243.5 202.0 244.1 199.4 244.8 196.7C245.6 193.9 246.3 191.5 247.3 188.4C248.3 185.3 249.5 181.6 250.8 177.9C252.1 174.1 253.4 170.2 255.1 165.8C256.7 161.4 258.5 156.7 260.5 151.6C262.6 146.5 265.0 140.5 267.4 135.4C269.8 130.4 273.7 123.9 275.2 121.3C276.6 118.6 276.1 119.9 276.2 119.6 M276.2 111.9C277.5 108.0 281.3 94.9 283.5 88.4C285.8 81.9 287.8 77.3 289.8 72.8C291.7 68.3 293.8 64.6 295.5 61.3C297.1 58.0 298.5 55.1 299.6 53.1C300.7 51.2 300.9 51.1 302.2 49.8C303.5 48.6 306.5 46.4 307.4 45.7C307.5 47.4 307.9 51.3 307.8 55.9C307.7 60.5 307.1 67.6 306.6 73.5C306.2 79.4 305.6 85.7 305.1 91.5C304.6 97.2 304.0 102.9 303.5 108.2C302.9 113.4 302.4 118.5 301.8 123.1C301.3 127.7 300.8 132.1 300.3 135.6C299.9 139.0 299.5 141.5 299.2 143.7C298.8 146.0 299.8 147.1 298.2 149.0C296.7 150.8 292.4 151.8 289.9 154.9C287.3 157.9 284.7 163.6 282.8 167.3C281.0 171.1 280.0 174.4 278.9 177.5C277.8 180.5 277.2 181.2 276.2 185.8C275.3 190.5 274.4 199.6 273.1 205.2C271.8 210.9 270.1 215.7 268.5 219.6C266.8 223.6 265.1 225.9 263.3 229.0C261.4 232.2 259.3 235.8 257.6 238.4C255.8 241.1 254.1 243.2 252.9 244.8C251.7 246.4 251.6 246.3 250.3 248.1C249.0 249.9 246.0 254.2 245.1 255.4C245.1 250.9 245.1 232.9 245.1 228.4C245.2 226.9 245.3 222.1 245.5 219.6C245.7 217.0 245.9 215.3 246.3 212.9C246.7 210.4 247.2 207.4 247.7 204.8C248.2 202.2 248.7 199.8 249.3 197.0C250.0 194.3 250.6 191.5 251.4 188.2C252.3 184.8 253.4 181.0 254.5 176.9C255.6 172.9 256.7 168.8 258.1 164.0C259.5 159.3 261.0 154.0 262.8 148.6C264.5 143.1 266.6 137.0 268.7 131.1C270.8 125.3 274.1 116.8 275.3 113.6C276.6 110.4 276.1 112.2 276.2 111.9"/>
<path class="b" style="stroke-width:3.1" d="M329 208.9H374.5"/>
<path class="r" style="stroke-width:3.7;stroke-dasharray:6 7.6" d="M330 243.2H375"/>
<text class="lg" style="font-size:17.7px" x="379" y="214.6">Test</text>
<text class="lg" style="font-size:17.7px" x="379" y="248.7">Calculation</text>
<text class="cp" transform="translate(245.1,357.6) scale(0.84,1)" text-anchor="middle">(<tspan font-weight="bold">a</tspan>)</text>
<!-- chart b -->
<path d="M611.0 11.5V270.4H1008.2" fill="none" stroke="#777777" stroke-width="1.4"/><path d="M611.0 11.5h5M611.0 54.6h5M677.2 270.4v-5M611.0 97.8h5M743.4 270.4v-5M611.0 140.9h5M809.6 270.4v-5M611.0 184.1h5M875.8 270.4v-5M611.0 227.2h5M942.0 270.4v-5M1008.2 270.4v-5" fill="none" stroke="#777777" stroke-width="1.3"/>
<text x="595.3" y="17.7" text-anchor="end" class="tk">300</text><text x="595.3" y="60.9" text-anchor="end" class="tk">200</text><text x="595.3" y="104.0" text-anchor="end" class="tk">100</text><text x="595.3" y="147.1" text-anchor="end" class="tk">0</text><text x="595.3" y="190.3" text-anchor="end" class="tk">-100</text><text x="595.3" y="233.4" text-anchor="end" class="tk">-200</text><text x="595.3" y="276.6" text-anchor="end" class="tk">-300</text><text x="610.7" y="297.9" text-anchor="middle" class="tk">-150</text><text x="676.9" y="297.9" text-anchor="middle" class="tk">-100</text><text x="743.1" y="297.9" text-anchor="middle" class="tk">-50</text><text x="809.6" y="297.9" text-anchor="middle" class="tk">0</text><text x="875.8" y="297.9" text-anchor="middle" class="tk">50</text><text x="942.0" y="297.9" text-anchor="middle" class="tk">100</text><text x="1008.2" y="297.9" text-anchor="middle" class="tk">150</text>
<text class="tt" style="font-size:19.85px" x="816.2" y="317.8" text-anchor="middle">Displacement (mm)</text>
<text class="tt" style="font-size:19.85px" transform="translate(547,144.8) rotate(-90)" text-anchor="middle">Horizontal Load (kN)</text>
<path class="b" style="stroke-width:3.2" d="M677.0 217.0C678.8 218.3 683.7 222.2 687.5 225.0C691.3 227.8 695.4 231.2 700.0 233.5C704.6 235.8 709.2 237.3 715.0 238.7C720.8 240.1 728.3 240.9 735.0 242.0C741.7 243.1 749.2 244.4 755.0 245.5C760.8 246.6 766.2 248.2 770.0 248.7C773.8 249.2 775.4 249.3 777.5 248.7C779.6 248.1 780.4 246.9 782.5 245.0C784.6 243.1 787.9 240.8 790.0 237.5C792.1 234.2 793.1 231.2 795.0 225.0C796.9 218.8 799.3 208.3 801.2 200.0C803.1 191.7 804.7 185.8 806.2 175.0C807.7 164.2 808.8 149.2 810.0 135.0C811.2 120.8 812.4 102.5 813.7 90.0C815.0 77.5 816.7 66.9 818.0 60.0C819.3 53.1 820.0 51.8 821.7 48.7C823.4 45.6 824.7 43.2 828.0 41.2C831.3 39.2 838.0 37.0 841.7 37.0C845.5 37.0 846.1 40.3 850.5 41.2C854.9 42.1 860.9 41.5 868.0 42.5C875.1 43.5 885.9 45.7 893.0 47.0C900.1 48.3 906.3 49.4 910.5 50.5C914.7 51.6 915.7 52.3 918.0 53.7C920.3 55.1 921.2 54.7 924.2 58.7C927.2 62.8 934.0 74.8 936.0 78.0"/>
<path class="r" style="stroke-width:3.8;stroke-dasharray:6.2 7.6" d="M687.5 223.0C689.6 223.5 695.0 224.4 700.0 226.2C705.0 228.0 712.5 231.4 717.5 233.7C722.5 236.0 725.8 238.1 730.0 240.0C734.2 241.9 738.3 243.6 742.5 245.0C746.7 246.4 750.8 248.2 755.0 248.7C759.2 249.2 763.3 248.8 767.5 248.0C771.7 247.2 775.8 245.2 780.0 243.7C784.2 242.1 789.2 241.4 792.5 238.7C795.8 236.0 797.9 232.7 800.0 227.5C802.1 222.3 803.7 216.2 805.0 207.5C806.3 198.8 807.3 187.1 808.0 175.0C808.7 162.9 808.9 148.3 809.2 135.0C809.5 121.7 809.4 106.7 810.0 95.0C810.6 83.3 811.7 72.9 813.0 65.0C814.3 57.1 815.9 51.7 818.0 47.5C820.1 43.3 821.8 42.1 825.5 40.0C829.2 37.9 835.1 36.2 840.5 35.0C845.9 33.8 852.6 32.8 858.0 33.0C863.4 33.2 868.4 34.7 873.0 36.2C877.6 37.7 881.3 40.1 885.5 42.0C889.7 43.9 893.8 45.8 898.0 47.5C902.2 49.2 905.9 50.8 910.5 52.5C915.1 54.2 923.0 56.7 925.5 57.5"/>
<path class="b" style="stroke-width:3.1" d="M863.5 203.1H909"/>
<path class="r" style="stroke-width:3.7;stroke-dasharray:6.1 7.7" d="M864.2 238.5H909"/>
<text class="lg" style="font-size:18px" x="914.3" y="209.6">Test</text>
<text class="lg" style="font-size:18px" x="914.3" y="242.9">Calculation</text>
<text class="cp" transform="translate(778.7,357.6) scale(0.88,1)" text-anchor="middle">(<tspan font-weight="bold">b</tspan>)</text>
</svg>
</body></html>
